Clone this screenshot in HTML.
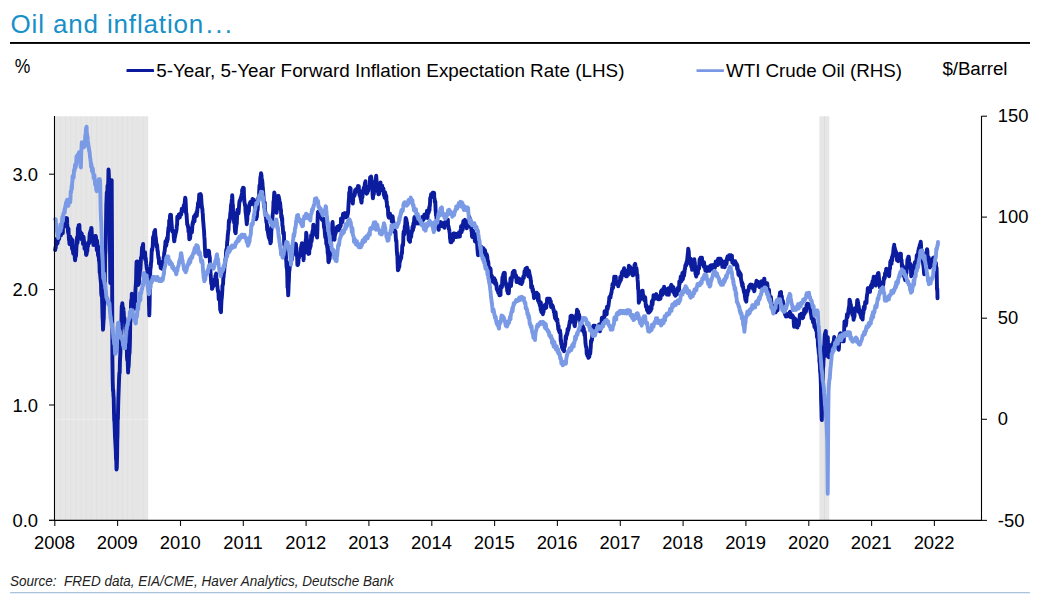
<!DOCTYPE html>
<html><head><meta charset="utf-8"><title>Oil and inflation</title>
<style>
html,body{margin:0;padding:0;background:#fff;}
body{width:1041px;height:596px;overflow:hidden;font-family:"Liberation Sans",sans-serif;}
svg{display:block}
text{font-family:"Liberation Sans",sans-serif;fill:#000;}
.ax{font-size:18.4px;}
.lg{font-size:18.8px;}
</style></head><body>
<svg width="1041" height="596" viewBox="0 0 1041 596">
<rect width="1041" height="596" fill="#fff"/>
<text x="10.5" y="32.7" style="font-size:26px;fill:#1790c8;letter-spacing:0.85px;">Oil and inflation<tspan dx="1.5" style="letter-spacing:2.3px;">...</tspan></text>
<rect x="10" y="42" width="1020" height="1.9" fill="#000"/>
<text x="14.8" y="72.7" style="font-size:19.4px" textLength="15.6" lengthAdjust="spacingAndGlyphs">%</text>
<rect x="126.4" y="69.1" width="27.7" height="3" rx="1.2" fill="#0b1a9c"/>
<text x="156.2" y="76.5" class="lg" style="font-size:18.86px">5-Year, 5-Year Forward Inflation Expectation Rate (LHS)</text>
<rect x="696.3" y="69.2" width="27.8" height="2.8" rx="1.2" fill="#7a98e4"/>
<text x="726" y="76.5" class="lg" textLength="176" lengthAdjust="spacing">WTI Crude Oil (RHS)</text>
<text x="942.5" y="74.5" class="lg" textLength="65" lengthAdjust="spacing">$/Barrel</text>
<g><rect x="55.3" y="116.3" width="92.9" height="404" fill="#e6e6e6"/><rect x="60.01" y="116.3" width="0.9" height="404" fill="#e0e0e0"/><rect x="65.17" y="116.3" width="0.9" height="404" fill="#e0e0e0"/><rect x="70.33" y="116.3" width="0.9" height="404" fill="#e0e0e0"/><rect x="75.49" y="116.3" width="0.9" height="404" fill="#e0e0e0"/><rect x="80.65" y="116.3" width="0.9" height="404" fill="#e0e0e0"/><rect x="85.81" y="116.3" width="0.9" height="404" fill="#e0e0e0"/><rect x="90.97" y="116.3" width="0.9" height="404" fill="#e0e0e0"/><rect x="96.13" y="116.3" width="0.9" height="404" fill="#e0e0e0"/><rect x="101.29" y="116.3" width="0.9" height="404" fill="#e0e0e0"/><rect x="106.45" y="116.3" width="0.9" height="404" fill="#e0e0e0"/><rect x="111.61" y="116.3" width="0.9" height="404" fill="#e0e0e0"/><rect x="116.77" y="116.3" width="0.9" height="404" fill="#e0e0e0"/><rect x="121.93" y="116.3" width="0.9" height="404" fill="#e0e0e0"/><rect x="127.09" y="116.3" width="0.9" height="404" fill="#e0e0e0"/><rect x="132.25" y="116.3" width="0.9" height="404" fill="#e0e0e0"/><rect x="137.41" y="116.3" width="0.9" height="404" fill="#e0e0e0"/><rect x="142.57" y="116.3" width="0.9" height="404" fill="#e0e0e0"/><rect x="819.4" y="116.3" width="9.9" height="404" fill="#e6e6e6"/><rect x="824" y="116.3" width="0.9" height="404" fill="#dcdcdc"/></g>
<rect x="55.3" y="418.8" width="92.9" height="1.2" fill="#fff" opacity="0.3"/>
<path d="M55.2,250.0 L55.5,247.4 L55.7,248.0 L56.0,244.4 L56.2,241.7 L56.5,239.4 L56.7,238.7 L57.0,242.4 L57.2,242.3 L57.5,243.6 L57.7,241.7 L58.0,240.5 L58.2,238.6 L58.5,233.0 L58.7,235.9 L59.0,237.7 L59.2,239.0 L59.5,233.0 L59.7,233.0 L60.0,233.5 L60.2,232.2 L60.5,233.9 L60.8,233.5 L61.0,235.3 L61.2,230.9 L61.5,232.4 L61.8,232.4 L62.0,229.8 L62.2,233.1 L62.5,233.1 L62.8,233.1 L63.0,228.1 L63.2,223.9 L63.5,223.6 L63.8,224.0 L64.0,224.9 L64.2,225.0 L64.5,222.8 L64.7,219.2 L65.0,218.6 L65.2,225.7 L65.4,220.1 L65.7,221.8 L65.9,222.7 L66.2,218.0 L66.4,219.8 L66.7,226.4 L67.0,218.2 L67.2,223.4 L67.5,228.2 L67.8,227.6 L68.0,232.0 L68.3,233.2 L68.5,228.7 L68.8,237.0 L69.0,239.9 L69.3,241.3 L69.5,244.2 L69.8,244.2 L70.0,243.3 L70.3,236.8 L70.5,241.6 L70.8,239.8 L71.0,240.6 L71.2,239.0 L71.5,239.0 L71.8,239.5 L72.0,248.8 L72.2,239.9 L72.5,240.2 L72.8,247.0 L73.0,251.7 L73.3,253.8 L73.5,247.4 L73.8,247.4 L74.0,249.6 L74.3,250.3 L74.6,250.5 L74.8,257.9 L75.1,260.2 L75.3,258.0 L75.6,255.8 L75.8,254.1 L76.0,256.2 L76.3,250.7 L76.5,245.8 L76.7,244.9 L77.0,237.3 L77.2,242.1 L77.5,242.9 L77.7,240.6 L77.9,228.1 L78.2,227.7 L78.4,231.7 L78.7,225.2 L78.9,226.2 L79.2,229.9 L79.4,225.0 L79.7,233.9 L80.0,233.9 L80.2,231.6 L80.5,232.0 L80.8,234.2 L81.0,234.6 L81.3,239.1 L81.5,234.4 L81.8,233.6 L82.0,239.6 L82.3,238.4 L82.5,236.2 L82.8,239.7 L83.0,243.9 L83.3,241.7 L83.5,236.6 L83.8,239.4 L84.0,241.3 L84.3,242.1 L84.5,248.8 L84.8,244.6 L85.0,248.3 L85.3,245.4 L85.5,244.1 L85.8,250.1 L86.1,255.0 L86.3,255.0 L86.6,253.9 L86.8,252.4 L87.1,250.9 L87.3,251.1 L87.5,247.3 L87.8,246.6 L88.0,246.2 L88.3,243.1 L88.5,242.1 L88.8,242.0 L89.0,243.4 L89.2,242.8 L89.5,236.6 L89.8,233.3 L90.0,232.7 L90.2,234.1 L90.5,230.7 L90.8,232.7 L91.0,238.9 L91.2,228.0 L91.5,228.0 L91.8,233.6 L92.0,236.4 L92.2,238.1 L92.5,237.1 L92.7,241.6 L92.9,242.4 L93.2,240.5 L93.4,245.0 L93.7,245.0 L93.9,242.0 L94.2,241.0 L94.5,240.0 L94.7,240.1 L95.0,237.6 L95.3,236.0 L95.5,240.5 L95.8,236.0 L96.0,237.2 L96.3,239.7 L96.5,243.8 L96.8,250.1 L97.0,240.5 L97.3,242.9 L97.5,245.6 L97.8,249.7 L98.0,255.1 L98.3,246.6 L98.5,256.7 L98.7,253.0 L99.0,260.9 L99.2,260.8 L99.5,264.3 L99.7,272.8 L100.0,272.8 L100.2,275.4 L100.5,278.7 L100.8,281.8 L101.0,283.7 L101.2,292.8 L101.5,295.8 L101.8,293.2 L102.0,297.2 L102.2,304.0 L102.5,316.3 L102.8,321.3 L103.0,329.7 L103.2,326.6 L103.5,321.3 L103.8,317.8 L104.0,304.3 L104.2,297.7 L104.5,298.0 L104.8,282.7 L105.0,268.1 L105.2,255.2 L105.5,251.2 L105.8,238.8 L106.0,227.3 L106.3,204.5 L106.5,200.7 L106.8,192.3 L107.0,194.4 L107.3,195.0 L107.5,185.7 L107.8,187.8 L108.0,187.3 L108.3,180.0 L108.5,169.5 L108.8,173.1 L109.1,182.7 L109.3,189.7 L109.6,201.9 L109.8,230.8 L110.1,262.8 L110.3,283.0 L110.6,246.9 L110.9,204.5 L111.2,203.7 L111.4,191.0 L111.7,180.1 L112.0,243.2 L112.2,299.2 L112.4,358.9 L112.7,381.1 L113.0,390.9 L113.2,389.5 L113.5,396.4 L113.7,397.6 L114.0,412.7 L114.2,419.7 L114.5,422.5 L114.7,428.0 L115.0,436.8 L115.2,439.9 L115.5,445.7 L115.8,450.8 L116.0,458.6 L116.3,461.0 L116.5,469.5 L116.8,467.6 L117.1,455.8 L117.3,440.1 L117.5,435.4 L117.7,417.0 L117.9,419.2 L118.2,404.6 L118.4,397.6 L118.7,389.6 L118.9,383.8 L119.2,375.9 L119.4,372.7 L119.7,372.8 L119.9,362.9 L120.1,357.9 L120.4,352.7 L120.6,340.7 L120.9,329.2 L121.1,322.6 L121.4,320.9 L121.6,310.6 L121.8,305.6 L122.1,307.8 L122.3,303.1 L122.5,305.4 L122.8,310.5 L123.0,311.2 L123.3,308.1 L123.5,310.3 L123.7,311.5 L124.0,318.9 L124.2,318.5 L124.5,318.1 L124.7,320.5 L125.0,321.9 L125.2,328.4 L125.5,329.0 L125.7,336.8 L126.0,332.1 L126.2,344.3 L126.5,349.5 L126.8,348.4 L127.0,357.1 L127.3,360.3 L127.6,356.4 L127.8,364.0 L128.1,372.5 L128.3,366.6 L128.6,366.8 L128.8,363.8 L129.0,357.9 L129.2,354.1 L129.5,353.6 L129.8,346.3 L130.0,338.0 L130.2,322.7 L130.5,320.8 L130.8,316.6 L131.0,304.1 L131.2,300.2 L131.5,306.2 L131.8,293.6 L132.0,294.7 L132.2,302.6 L132.5,297.2 L132.8,300.8 L133.0,303.1 L133.2,302.1 L133.5,301.9 L133.7,305.5 L134.0,301.6 L134.2,303.0 L134.4,305.8 L134.7,308.9 L134.9,308.0 L135.1,301.5 L135.4,291.4 L135.6,287.2 L135.8,285.0 L136.1,279.3 L136.3,268.9 L136.6,261.7 L136.8,262.8 L137.0,269.7 L137.2,272.0 L137.5,261.4 L137.7,270.4 L137.9,275.2 L138.2,285.0 L138.4,284.6 L138.7,284.2 L139.0,282.8 L139.2,272.2 L139.5,276.8 L139.7,274.8 L140.0,268.4 L140.2,270.6 L140.5,268.5 L140.8,261.8 L141.0,257.5 L141.3,257.8 L141.6,256.4 L141.8,252.1 L142.1,247.3 L142.3,253.0 L142.6,249.2 L142.8,246.6 L143.1,244.0 L143.3,253.8 L143.6,256.9 L143.8,257.4 L144.0,257.4 L144.3,253.7 L144.5,255.1 L144.7,252.1 L145.0,252.1 L145.2,254.9 L145.4,260.1 L145.7,257.9 L145.9,260.2 L146.2,263.5 L146.4,264.7 L146.7,267.8 L146.9,269.2 L147.2,268.3 L147.4,273.3 L147.7,273.0 L147.9,271.3 L148.2,273.2 L148.5,283.4 L148.8,293.7 L149.0,305.3 L149.3,315.4 L149.6,304.6 L149.8,292.3 L150.1,278.1 L150.3,269.4 L150.5,268.8 L150.8,266.7 L151.0,262.9 L151.3,261.5 L151.5,255.6 L151.8,249.4 L152.0,250.7 L152.3,248.2 L152.5,248.1 L152.8,244.5 L153.0,237.9 L153.3,236.4 L153.5,242.0 L153.8,238.3 L154.1,233.0 L154.3,231.6 L154.6,233.0 L154.8,232.1 L155.1,230.0 L155.3,234.8 L155.6,237.4 L155.8,237.4 L156.0,239.8 L156.3,243.3 L156.5,243.3 L156.8,247.0 L157.0,244.7 L157.2,246.5 L157.5,250.8 L157.8,251.0 L158.0,254.1 L158.2,255.9 L158.5,258.4 L158.8,257.4 L159.0,263.5 L159.2,263.5 L159.5,261.6 L159.8,261.5 L160.0,263.5 L160.2,264.0 L160.5,266.1 L160.7,268.1 L160.9,266.6 L161.2,263.0 L161.4,265.5 L161.7,267.2 L161.9,268.7 L162.2,268.2 L162.4,265.9 L162.7,266.1 L162.9,264.6 L163.2,262.0 L163.5,259.5 L163.7,257.1 L164.0,256.4 L164.2,253.4 L164.5,251.4 L164.7,251.1 L165.0,246.5 L165.2,246.4 L165.5,241.3 L165.7,242.4 L166.0,245.5 L166.2,245.8 L166.5,243.9 L166.7,242.3 L167.0,237.9 L167.2,241.6 L167.5,239.7 L167.7,239.3 L168.0,232.6 L168.2,230.7 L168.5,227.5 L168.8,227.5 L169.0,228.2 L169.2,220.4 L169.5,220.9 L169.8,222.2 L170.0,216.0 L170.2,214.8 L170.5,214.8 L170.8,215.5 L171.0,214.9 L171.2,219.0 L171.5,222.7 L171.8,226.3 L172.0,228.7 L172.2,231.4 L172.5,231.5 L172.7,230.7 L173.0,231.3 L173.2,230.8 L173.4,231.2 L173.7,235.4 L173.9,238.4 L174.2,241.4 L174.4,241.0 L174.6,237.7 L174.9,237.3 L175.1,236.2 L175.4,234.7 L175.6,233.9 L175.8,231.2 L176.1,232.3 L176.3,230.7 L176.6,229.0 L176.8,225.9 L177.1,224.7 L177.3,216.8 L177.6,216.8 L177.8,219.2 L178.1,216.8 L178.3,217.9 L178.5,217.9 L178.8,214.5 L179.0,214.8 L179.3,214.6 L179.5,216.6 L179.8,217.5 L180.0,215.8 L180.3,213.5 L180.5,213.8 L180.8,213.4 L181.0,214.8 L181.2,214.5 L181.5,211.4 L181.8,208.6 L182.0,209.0 L182.2,208.6 L182.5,208.6 L182.8,209.4 L183.0,209.5 L183.2,208.4 L183.5,208.4 L183.8,205.3 L184.0,210.8 L184.2,204.9 L184.5,204.8 L184.8,201.4 L185.0,200.1 L185.2,197.6 L185.5,199.2 L185.8,204.2 L186.0,208.8 L186.2,214.0 L186.5,213.7 L186.8,218.4 L187.0,221.4 L187.2,224.3 L187.5,225.2 L187.8,225.1 L188.0,227.4 L188.3,226.9 L188.5,231.8 L188.8,229.5 L189.0,232.7 L189.3,239.2 L189.5,237.2 L189.8,237.7 L190.0,238.8 L190.3,236.7 L190.5,232.4 L190.7,232.9 L191.0,232.8 L191.2,231.5 L191.4,228.5 L191.7,232.0 L191.9,232.3 L192.2,228.0 L192.4,225.3 L192.7,222.4 L193.0,223.8 L193.2,220.8 L193.5,221.8 L193.7,219.0 L194.0,216.5 L194.2,219.0 L194.5,221.3 L194.7,218.1 L195.0,215.0 L195.2,216.0 L195.5,214.5 L195.8,214.1 L196.0,216.0 L196.2,216.0 L196.5,212.0 L196.8,216.0 L197.0,212.6 L197.2,212.3 L197.5,207.7 L197.8,206.9 L198.0,203.0 L198.2,207.0 L198.5,206.6 L198.7,202.8 L199.0,198.3 L199.2,194.5 L199.4,200.0 L199.7,197.3 L199.9,196.6 L200.2,195.1 L200.4,194.3 L200.6,194.1 L200.9,197.0 L201.1,195.5 L201.3,200.0 L201.6,204.0 L201.8,206.4 L202.1,208.4 L202.3,208.4 L202.6,212.5 L202.8,214.1 L203.1,220.6 L203.3,221.9 L203.6,226.0 L203.8,228.4 L204.1,231.6 L204.3,236.4 L204.6,239.7 L204.8,245.7 L205.1,251.3 L205.3,255.2 L205.5,256.2 L205.8,254.6 L206.0,253.7 L206.3,256.2 L206.5,251.0 L206.8,250.6 L207.0,251.4 L207.3,252.0 L207.5,253.1 L207.8,252.2 L208.1,253.6 L208.3,253.4 L208.6,255.1 L208.8,250.8 L209.1,252.0 L209.3,255.3 L209.6,256.1 L209.8,258.0 L210.0,265.4 L210.3,267.4 L210.5,272.1 L210.8,276.4 L211.0,279.5 L211.2,282.9 L211.5,284.2 L211.8,284.0 L212.0,288.8 L212.2,288.7 L212.5,286.3 L212.8,285.4 L213.0,287.0 L213.2,282.5 L213.5,284.0 L213.8,285.5 L214.0,281.4 L214.2,280.7 L214.5,279.4 L214.7,282.8 L214.9,280.7 L215.2,280.7 L215.4,276.0 L215.7,275.3 L215.9,274.6 L216.2,273.6 L216.4,280.2 L216.7,284.1 L216.9,279.5 L217.2,285.5 L217.5,287.0 L217.7,289.9 L218.0,291.8 L218.2,291.1 L218.5,293.2 L218.7,299.2 L219.0,298.1 L219.2,297.0 L219.5,296.5 L219.7,297.9 L220.0,303.8 L220.2,309.8 L220.5,310.3 L220.7,311.1 L221.0,312.2 L221.2,305.9 L221.5,299.9 L221.7,298.6 L222.0,295.5 L222.3,290.6 L222.5,285.2 L222.8,285.2 L223.1,283.6 L223.3,278.1 L223.6,277.0 L223.8,273.4 L224.1,272.7 L224.3,269.7 L224.5,267.1 L224.8,264.0 L225.0,263.1 L225.2,263.4 L225.5,258.7 L225.8,258.2 L226.0,252.2 L226.2,250.5 L226.5,249.0 L226.8,249.5 L227.0,244.9 L227.2,241.9 L227.5,239.9 L227.8,234.3 L228.0,234.1 L228.2,230.8 L228.5,230.4 L228.7,225.2 L228.9,220.5 L229.2,222.2 L229.4,222.0 L229.6,219.0 L229.9,219.9 L230.1,216.3 L230.3,212.8 L230.6,212.8 L230.8,208.9 L231.0,205.3 L231.3,203.8 L231.5,204.6 L231.7,200.8 L232.0,198.7 L232.2,195.1 L232.4,198.8 L232.7,206.1 L232.9,204.9 L233.1,214.0 L233.4,211.6 L233.6,214.0 L233.8,217.2 L234.1,222.6 L234.3,220.5 L234.6,219.2 L234.8,227.5 L235.1,232.0 L235.3,231.6 L235.6,233.2 L235.8,231.3 L236.0,227.8 L236.3,226.4 L236.5,223.2 L236.8,224.0 L237.0,217.9 L237.2,215.4 L237.5,209.7 L237.8,211.7 L238.0,210.7 L238.2,211.2 L238.5,213.3 L238.8,210.5 L239.0,206.9 L239.2,203.9 L239.5,201.3 L239.8,200.5 L240.0,201.1 L240.2,200.1 L240.5,199.1 L240.8,197.5 L241.0,199.2 L241.2,198.1 L241.5,195.2 L241.8,194.9 L242.0,192.7 L242.2,189.6 L242.5,193.4 L242.8,192.6 L243.0,187.8 L243.2,190.0 L243.5,188.3 L243.8,188.1 L244.0,196.2 L244.2,198.7 L244.5,202.6 L244.8,203.8 L245.0,205.4 L245.3,205.2 L245.5,211.2 L245.8,213.5 L246.0,215.0 L246.3,218.8 L246.5,221.2 L246.8,224.2 L247.0,221.5 L247.3,219.6 L247.5,211.6 L247.7,212.3 L248.0,214.2 L248.2,213.6 L248.4,211.0 L248.7,208.7 L248.9,211.4 L249.1,206.2 L249.4,205.1 L249.6,203.7 L249.8,203.4 L250.1,204.2 L250.3,202.0 L250.6,202.6 L250.8,202.2 L251.0,202.5 L251.3,204.2 L251.5,204.2 L251.8,203.3 L252.0,201.3 L252.2,202.7 L252.5,199.0 L252.8,201.5 L253.0,202.5 L253.2,200.8 L253.5,201.1 L253.8,199.6 L254.0,204.0 L254.2,200.9 L254.5,203.0 L254.8,205.8 L255.0,208.6 L255.2,211.7 L255.5,212.9 L255.7,212.7 L255.9,215.9 L256.2,219.2 L256.4,218.2 L256.6,216.6 L256.9,217.0 L257.1,213.5 L257.3,206.3 L257.6,210.3 L257.8,207.2 L258.1,200.4 L258.3,198.2 L258.6,197.3 L258.8,196.8 L259.1,193.6 L259.3,189.1 L259.5,185.5 L259.8,184.7 L260.0,186.1 L260.2,180.0 L260.5,176.6 L260.7,177.1 L261.0,173.3 L261.2,173.8 L261.5,175.5 L261.7,179.5 L262.0,179.7 L262.2,180.5 L262.5,183.7 L262.7,187.3 L263.0,189.5 L263.2,192.1 L263.5,196.5 L263.8,201.5 L264.0,206.7 L264.2,203.1 L264.5,204.0 L264.8,202.6 L265.0,210.2 L265.2,211.1 L265.5,213.5 L265.8,217.4 L266.0,215.1 L266.2,220.5 L266.5,222.8 L266.8,222.0 L267.0,226.9 L267.2,230.1 L267.5,226.2 L267.8,231.1 L268.0,232.5 L268.2,234.4 L268.5,235.5 L268.8,237.7 L269.0,236.5 L269.2,238.6 L269.5,237.5 L269.7,240.1 L269.9,237.4 L270.2,238.5 L270.4,243.2 L270.7,242.7 L270.9,241.8 L271.2,235.3 L271.4,229.7 L271.7,227.7 L272.0,226.5 L272.2,221.7 L272.5,216.9 L272.8,213.3 L273.0,213.0 L273.3,206.8 L273.5,201.4 L273.8,201.0 L274.0,196.6 L274.3,192.5 L274.5,193.3 L274.8,195.2 L275.0,199.7 L275.3,201.8 L275.5,201.8 L275.8,205.1 L276.1,208.1 L276.3,207.9 L276.6,212.8 L276.9,210.0 L277.1,207.0 L277.4,207.4 L277.6,208.1 L277.9,201.4 L278.1,200.1 L278.4,195.7 L278.6,196.6 L278.8,196.9 L279.1,201.3 L279.3,199.1 L279.5,202.8 L279.8,205.5 L280.0,202.4 L280.2,203.7 L280.5,207.8 L280.8,209.4 L281.0,209.8 L281.2,217.2 L281.5,216.5 L281.7,215.7 L282.0,220.7 L282.2,218.0 L282.4,225.7 L282.7,225.7 L282.9,228.9 L283.2,233.3 L283.4,234.1 L283.6,233.7 L283.9,232.5 L284.1,241.1 L284.3,245.1 L284.6,244.5 L284.8,248.4 L285.1,251.4 L285.3,254.7 L285.6,249.1 L285.8,253.5 L286.1,259.4 L286.3,261.7 L286.6,267.7 L286.8,263.3 L287.1,271.1 L287.3,276.8 L287.5,287.4 L287.8,286.7 L288.0,290.2 L288.2,295.3 L288.4,291.4 L288.7,283.3 L288.9,280.1 L289.2,271.3 L289.5,270.2 L289.7,266.9 L290.0,266.3 L290.2,263.2 L290.5,261.2 L290.8,262.4 L291.0,262.1 L291.2,258.9 L291.5,259.1 L291.8,259.9 L292.0,256.5 L292.2,255.2 L292.5,255.8 L292.8,255.7 L293.0,252.6 L293.2,248.7 L293.5,250.8 L293.7,250.7 L294.0,250.0 L294.2,248.6 L294.5,249.0 L294.7,247.1 L294.9,244.3 L295.2,243.9 L295.4,244.1 L295.7,244.3 L295.9,243.9 L296.2,248.1 L296.4,247.3 L296.7,254.1 L297.0,255.8 L297.2,258.7 L297.4,264.9 L297.7,265.1 L297.9,265.0 L298.1,263.8 L298.4,262.9 L298.6,256.7 L298.9,256.0 L299.1,257.4 L299.3,255.7 L299.6,255.5 L299.8,255.1 L300.0,255.1 L300.3,255.2 L300.5,254.1 L300.8,250.3 L301.0,248.6 L301.2,246.5 L301.5,245.1 L301.7,244.2 L301.9,243.1 L302.2,245.3 L302.4,248.3 L302.6,248.0 L302.9,251.7 L303.1,255.5 L303.4,256.6 L303.6,260.2 L303.8,253.0 L304.1,251.7 L304.3,245.6 L304.5,249.9 L304.8,252.9 L305.0,244.4 L305.2,243.0 L305.5,242.8 L305.8,239.7 L306.0,239.6 L306.2,232.8 L306.5,234.5 L306.8,237.9 L307.0,240.5 L307.2,241.4 L307.5,246.7 L307.8,247.4 L308.0,251.2 L308.2,252.9 L308.5,253.9 L308.7,253.0 L309.0,252.8 L309.2,253.7 L309.4,248.9 L309.7,248.3 L309.9,248.8 L310.2,246.8 L310.4,246.2 L310.6,246.5 L310.9,242.3 L311.1,235.3 L311.4,238.8 L311.6,241.4 L311.8,239.4 L312.1,236.8 L312.3,232.7 L312.6,230.7 L312.8,232.4 L313.1,228.6 L313.3,224.8 L313.6,224.8 L313.8,231.8 L314.1,231.9 L314.3,227.1 L314.5,226.6 L314.8,228.6 L315.0,227.4 L315.2,233.1 L315.5,232.2 L315.7,231.6 L315.9,235.0 L316.2,233.7 L316.4,235.3 L316.6,235.9 L316.9,236.0 L317.1,237.6 L317.4,230.0 L317.6,219.5 L317.9,212.2 L318.1,211.8 L318.3,211.8 L318.6,211.9 L318.8,213.1 L319.1,215.2 L319.3,215.0 L319.5,212.5 L319.8,211.9 L320.0,211.8 L320.3,212.5 L320.5,214.6 L320.7,215.9 L321.0,215.7 L321.2,215.6 L321.5,218.7 L321.7,217.8 L321.9,219.6 L322.2,219.9 L322.4,219.2 L322.7,220.4 L322.9,218.7 L323.1,219.3 L323.4,218.6 L323.6,218.8 L323.9,226.2 L324.1,227.8 L324.4,227.0 L324.6,229.6 L324.9,233.6 L325.1,235.4 L325.3,237.6 L325.6,233.5 L325.8,235.2 L326.0,238.2 L326.3,243.9 L326.5,244.3 L326.7,242.8 L327.0,245.1 L327.2,247.3 L327.4,247.6 L327.7,253.4 L327.9,252.2 L328.1,254.1 L328.4,261.6 L328.6,262.2 L328.9,261.1 L329.1,260.4 L329.3,258.3 L329.6,259.2 L329.8,256.0 L330.1,254.5 L330.3,248.7 L330.6,245.3 L330.8,241.0 L331.1,239.1 L331.3,239.3 L331.6,230.9 L331.8,229.3 L332.1,227.9 L332.3,224.2 L332.6,222.0 L332.8,225.9 L333.1,232.8 L333.3,232.7 L333.5,232.1 L333.8,230.6 L334.0,239.3 L334.2,239.0 L334.5,239.7 L334.7,236.4 L335.0,235.5 L335.2,231.8 L335.4,232.5 L335.7,233.3 L335.9,231.6 L336.2,230.5 L336.4,227.9 L336.6,230.4 L336.9,228.2 L337.1,226.7 L337.4,226.7 L337.6,226.7 L337.9,226.7 L338.1,226.7 L338.4,228.3 L338.6,226.0 L338.9,226.2 L339.1,230.3 L339.4,230.3 L339.6,228.0 L339.8,227.3 L340.1,226.3 L340.3,226.0 L340.5,226.5 L340.8,225.1 L341.0,218.5 L341.2,220.1 L341.5,218.7 L341.7,221.8 L342.0,220.0 L342.2,220.1 L342.4,222.0 L342.7,218.9 L342.9,215.3 L343.1,213.8 L343.4,213.8 L343.6,213.8 L343.9,214.2 L344.1,214.4 L344.3,213.2 L344.6,213.2 L344.8,213.9 L345.1,213.2 L345.3,213.2 L345.5,215.1 L345.8,217.4 L346.0,217.4 L346.2,216.8 L346.5,216.8 L346.8,215.9 L347.0,216.8 L347.2,216.8 L347.5,214.8 L347.8,214.1 L348.0,213.0 L348.2,210.2 L348.5,205.3 L348.8,199.9 L349.0,199.0 L349.2,192.5 L349.4,195.2 L349.7,193.1 L349.9,187.7 L350.1,191.7 L350.4,194.5 L350.6,188.4 L350.9,196.6 L351.1,197.2 L351.4,197.5 L351.6,196.8 L351.9,199.3 L352.1,201.0 L352.3,201.5 L352.6,202.1 L352.8,203.6 L353.1,199.6 L353.3,196.0 L353.6,194.5 L353.8,194.5 L354.1,194.8 L354.3,196.0 L354.5,195.5 L354.8,194.4 L355.0,191.2 L355.2,190.0 L355.5,192.0 L355.7,190.8 L356.0,190.3 L356.2,188.9 L356.5,191.5 L356.7,188.6 L357.0,190.0 L357.2,191.5 L357.5,188.2 L357.7,188.6 L358.0,185.9 L358.3,189.1 L358.5,190.2 L358.8,186.3 L359.0,191.4 L359.3,190.3 L359.5,195.2 L359.8,194.5 L360.0,195.3 L360.3,197.3 L360.5,197.3 L360.8,199.5 L361.0,199.0 L361.3,202.1 L361.5,202.6 L361.7,201.5 L362.0,193.0 L362.2,197.9 L362.5,196.5 L362.7,190.6 L363.0,192.2 L363.2,192.2 L363.5,192.6 L363.7,187.6 L364.0,191.2 L364.2,187.2 L364.5,190.9 L364.7,184.9 L365.0,182.7 L365.2,183.2 L365.5,181.3 L365.7,187.2 L366.0,189.2 L366.2,189.8 L366.5,193.7 L366.8,191.9 L367.0,189.2 L367.3,193.0 L367.5,191.2 L367.8,189.1 L368.0,191.1 L368.2,191.1 L368.5,188.8 L368.7,188.4 L369.0,186.9 L369.2,186.2 L369.4,186.4 L369.7,187.0 L369.9,182.6 L370.1,177.4 L370.4,182.7 L370.6,180.7 L370.9,180.9 L371.1,176.5 L371.4,178.1 L371.6,181.3 L371.9,181.0 L372.1,185.8 L372.4,189.7 L372.6,195.0 L372.9,198.2 L373.1,196.5 L373.3,192.2 L373.6,193.0 L373.8,194.3 L374.0,191.7 L374.3,186.6 L374.5,187.3 L374.8,187.2 L375.0,186.4 L375.2,182.2 L375.5,181.5 L375.8,180.9 L376.0,177.5 L376.2,175.8 L376.5,179.8 L376.8,183.7 L377.0,185.1 L377.2,189.0 L377.4,188.2 L377.7,190.2 L377.9,192.0 L378.1,192.0 L378.4,194.2 L378.6,190.6 L378.9,194.2 L379.1,193.9 L379.3,190.3 L379.6,187.2 L379.8,186.0 L380.0,185.8 L380.3,185.3 L380.5,182.4 L380.7,185.7 L381.0,188.3 L381.2,187.6 L381.4,188.9 L381.7,188.3 L381.9,189.1 L382.2,185.6 L382.4,190.5 L382.7,190.0 L382.9,188.5 L383.2,188.5 L383.4,188.5 L383.7,193.0 L383.9,195.2 L384.2,192.7 L384.4,195.2 L384.7,197.8 L384.9,195.4 L385.1,192.3 L385.4,194.2 L385.6,196.3 L385.8,198.7 L386.1,199.4 L386.3,195.8 L386.5,201.7 L386.8,201.6 L387.0,206.8 L387.2,205.9 L387.5,206.4 L387.8,207.1 L388.0,209.5 L388.2,215.4 L388.5,216.6 L388.8,217.5 L389.0,217.7 L389.2,213.6 L389.5,213.6 L389.8,213.8 L390.0,213.6 L390.2,216.9 L390.5,215.8 L390.8,216.1 L391.0,216.5 L391.3,216.2 L391.5,217.2 L391.8,221.6 L392.0,221.0 L392.3,217.5 L392.5,216.2 L392.8,217.4 L393.0,221.4 L393.3,221.2 L393.6,224.6 L393.8,229.3 L394.1,231.6 L394.3,228.8 L394.6,231.7 L394.8,232.3 L395.0,231.1 L395.3,232.6 L395.5,231.5 L395.7,236.1 L396.0,240.7 L396.2,241.3 L396.4,240.5 L396.7,248.4 L396.9,251.8 L397.2,255.3 L397.4,256.0 L397.6,263.3 L397.9,270.2 L398.1,270.2 L398.3,269.8 L398.6,268.7 L398.8,266.3 L399.0,267.6 L399.3,266.8 L399.5,263.8 L399.8,260.0 L400.0,261.5 L400.2,258.7 L400.5,259.8 L400.8,258.4 L401.0,258.2 L401.2,258.2 L401.5,253.5 L401.8,251.9 L402.0,253.5 L402.2,247.0 L402.5,244.8 L402.7,245.1 L403.0,245.3 L403.2,242.3 L403.4,234.6 L403.7,231.4 L403.9,232.0 L404.2,230.9 L404.4,234.3 L404.7,227.1 L405.0,225.5 L405.2,226.0 L405.5,219.4 L405.7,217.9 L406.0,219.7 L406.2,218.9 L406.5,220.4 L406.7,223.4 L407.0,222.4 L407.2,226.4 L407.5,226.2 L407.7,227.7 L408.0,230.9 L408.2,231.4 L408.5,234.0 L408.7,239.9 L409.0,239.0 L409.2,238.8 L409.5,241.4 L409.7,241.4 L410.0,241.8 L410.2,237.0 L410.5,238.0 L410.7,234.9 L411.0,231.9 L411.2,236.8 L411.5,231.4 L411.7,233.3 L412.0,230.6 L412.2,231.0 L412.5,226.8 L412.8,228.7 L413.0,230.1 L413.2,225.6 L413.5,222.9 L413.8,227.5 L414.0,222.7 L414.2,219.0 L414.5,217.0 L414.8,218.2 L415.0,219.1 L415.2,219.4 L415.5,221.5 L415.8,220.4 L416.0,220.8 L416.2,221.5 L416.5,219.5 L416.7,221.6 L417.0,223.5 L417.2,219.6 L417.4,218.0 L417.7,218.0 L417.9,218.0 L418.2,220.3 L418.4,219.6 L418.7,220.9 L418.9,223.5 L419.2,219.2 L419.4,219.3 L419.7,219.2 L420.0,220.6 L420.2,219.2 L420.5,219.8 L420.7,220.7 L421.0,221.4 L421.2,220.5 L421.5,220.4 L421.7,218.8 L422.0,219.6 L422.2,217.0 L422.5,218.2 L422.7,217.0 L423.0,217.0 L423.2,220.0 L423.5,219.5 L423.7,216.4 L424.0,217.6 L424.2,215.0 L424.5,214.5 L424.7,214.5 L425.0,217.1 L425.2,217.8 L425.5,216.8 L425.7,215.1 L426.0,214.8 L426.2,216.9 L426.5,216.7 L426.8,213.7 L427.0,210.6 L427.2,210.6 L427.5,218.0 L427.8,212.5 L428.0,212.9 L428.2,213.5 L428.5,212.8 L428.8,212.2 L429.0,210.9 L429.2,207.3 L429.5,210.3 L429.7,205.2 L429.9,206.0 L430.2,198.1 L430.4,197.7 L430.7,197.5 L430.9,196.6 L431.1,194.1 L431.4,196.1 L431.6,196.6 L431.8,193.7 L432.1,195.4 L432.3,194.0 L432.6,192.8 L432.8,193.3 L433.1,192.8 L433.3,192.8 L433.6,192.8 L433.8,192.8 L434.1,192.9 L434.3,198.2 L434.6,198.6 L434.8,202.1 L435.1,202.0 L435.3,201.4 L435.6,210.4 L435.8,211.8 L436.0,215.3 L436.3,213.9 L436.5,218.4 L436.7,219.7 L437.0,221.7 L437.2,222.2 L437.4,225.9 L437.7,224.6 L437.9,223.3 L438.2,222.5 L438.4,229.5 L438.7,229.8 L438.9,226.5 L439.2,225.2 L439.4,225.2 L439.7,225.2 L439.9,223.6 L440.1,222.1 L440.4,222.0 L440.6,222.2 L440.8,222.7 L441.1,222.3 L441.3,223.9 L441.5,225.3 L441.8,226.0 L442.0,223.5 L442.2,223.7 L442.5,223.7 L442.8,226.4 L443.0,223.7 L443.2,223.7 L443.5,225.6 L443.8,224.9 L444.0,227.4 L444.2,225.2 L444.5,227.8 L444.8,222.2 L445.0,222.2 L445.2,224.6 L445.5,224.5 L445.7,224.9 L446.0,224.4 L446.2,225.0 L446.4,220.2 L446.7,224.0 L446.9,221.5 L447.2,223.4 L447.4,222.1 L447.6,219.8 L447.9,219.8 L448.1,225.6 L448.4,226.2 L448.6,226.3 L448.8,228.8 L449.1,229.1 L449.3,230.3 L449.5,231.8 L449.8,233.5 L450.0,238.7 L450.2,237.8 L450.5,242.2 L450.7,242.2 L451.0,242.2 L451.2,242.2 L451.4,242.2 L451.7,241.4 L451.9,239.9 L452.1,237.3 L452.4,237.9 L452.6,236.7 L452.9,240.5 L453.1,239.1 L453.3,237.7 L453.6,233.5 L453.8,234.5 L454.1,234.3 L454.3,233.5 L454.5,233.5 L454.8,233.5 L455.0,234.4 L455.2,234.5 L455.5,237.0 L455.8,237.0 L456.0,236.0 L456.2,237.0 L456.5,237.0 L456.8,236.0 L457.0,234.9 L457.2,233.8 L457.5,236.8 L457.7,236.8 L457.9,236.8 L458.2,236.8 L458.4,235.6 L458.7,233.6 L458.9,235.4 L459.1,232.2 L459.4,234.0 L459.6,236.5 L459.9,236.5 L460.1,232.3 L460.4,233.1 L460.6,230.9 L460.9,228.4 L461.1,226.2 L461.3,230.3 L461.6,232.2 L461.8,228.2 L462.0,226.1 L462.3,225.0 L462.5,229.8 L462.7,229.8 L463.0,225.4 L463.2,222.4 L463.4,220.9 L463.7,224.6 L463.9,225.8 L464.2,224.2 L464.4,221.3 L464.7,220.9 L464.9,219.8 L465.2,223.1 L465.4,221.6 L465.7,225.6 L465.9,223.2 L466.1,223.2 L466.4,226.2 L466.6,227.4 L466.8,228.2 L467.1,227.1 L467.3,222.7 L467.5,225.3 L467.8,225.8 L468.0,221.7 L468.2,224.7 L468.5,224.3 L468.8,224.4 L469.0,216.8 L469.2,216.8 L469.5,217.7 L469.8,221.8 L470.0,218.6 L470.2,220.3 L470.5,222.6 L470.8,223.7 L471.0,228.0 L471.2,226.4 L471.5,231.0 L471.8,232.6 L472.0,236.3 L472.2,236.9 L472.5,234.7 L472.8,231.2 L473.0,230.7 L473.2,231.7 L473.5,234.4 L473.8,235.3 L474.0,237.6 L474.3,238.0 L474.5,235.4 L474.8,240.5 L475.0,241.4 L475.3,240.2 L475.5,237.4 L475.8,234.3 L476.0,236.0 L476.3,239.6 L476.6,239.6 L476.8,238.4 L477.1,243.7 L477.3,246.7 L477.5,249.8 L477.8,252.7 L478.0,255.2 L478.2,253.4 L478.5,254.8 L478.7,251.4 L479.0,253.6 L479.2,253.1 L479.5,252.7 L479.7,253.4 L480.0,251.5 L480.2,252.8 L480.5,252.8 L480.8,252.3 L481.0,249.2 L481.2,247.2 L481.5,247.1 L481.8,247.9 L482.0,248.3 L482.2,253.4 L482.5,253.3 L482.8,253.7 L483.0,249.6 L483.2,248.1 L483.5,248.8 L483.8,250.7 L484.0,249.1 L484.2,253.4 L484.5,251.9 L484.7,254.2 L485.0,250.2 L485.2,251.5 L485.5,253.9 L485.7,255.2 L485.9,257.1 L486.2,257.3 L486.4,257.3 L486.7,254.3 L486.9,256.0 L487.1,255.7 L487.4,257.8 L487.6,260.7 L487.9,261.3 L488.1,261.2 L488.4,263.0 L488.6,267.7 L488.9,272.0 L489.1,270.0 L489.3,272.0 L489.6,267.7 L489.8,268.0 L490.0,268.5 L490.3,268.5 L490.5,268.7 L490.8,271.7 L491.0,277.0 L491.2,275.4 L491.5,275.2 L491.7,275.7 L492.0,276.2 L492.2,279.1 L492.5,281.8 L492.7,277.3 L493.0,278.8 L493.2,278.9 L493.5,280.2 L493.8,278.2 L494.0,278.2 L494.3,278.2 L494.6,279.6 L494.8,282.4 L495.1,283.7 L495.3,280.3 L495.6,283.6 L495.8,283.2 L496.1,283.2 L496.3,283.2 L496.6,287.1 L496.8,289.4 L497.0,289.2 L497.3,290.4 L497.5,289.7 L497.7,290.3 L498.0,290.9 L498.2,292.8 L498.4,292.2 L498.7,292.0 L498.9,292.2 L499.2,291.7 L499.4,295.2 L499.7,294.7 L499.9,293.5 L500.2,295.2 L500.5,295.0 L500.7,286.1 L501.0,286.0 L501.3,286.3 L501.5,287.3 L501.8,287.3 L502.0,286.3 L502.3,279.1 L502.5,277.0 L502.8,277.6 L503.1,277.9 L503.3,274.2 L503.6,273.5 L503.8,273.0 L504.1,273.8 L504.3,273.8 L504.5,274.5 L504.8,272.8 L505.0,279.1 L505.3,283.8 L505.5,281.6 L505.8,283.5 L506.0,283.3 L506.2,285.3 L506.5,286.8 L506.8,284.8 L507.0,288.1 L507.2,291.2 L507.5,288.3 L507.8,293.2 L508.0,293.2 L508.2,293.2 L508.5,293.2 L508.8,293.2 L509.0,289.8 L509.2,286.1 L509.5,283.9 L509.8,284.6 L510.0,284.1 L510.2,284.3 L510.5,278.3 L510.8,285.5 L511.0,286.0 L511.2,283.0 L511.5,281.4 L511.8,279.3 L512.0,277.2 L512.2,276.1 L512.5,275.1 L512.7,272.3 L513.0,273.5 L513.2,273.1 L513.4,273.4 L513.7,271.0 L513.9,271.3 L514.1,272.0 L514.4,273.9 L514.6,271.0 L514.9,273.8 L515.1,276.9 L515.4,277.1 L515.6,275.4 L515.9,275.3 L516.1,275.6 L516.4,278.1 L516.6,282.0 L516.8,279.9 L517.1,277.6 L517.3,279.6 L517.6,280.2 L517.8,279.5 L518.0,278.7 L518.3,279.6 L518.5,282.4 L518.8,278.7 L519.0,278.5 L519.2,281.9 L519.5,280.4 L519.7,282.5 L519.9,283.3 L520.2,283.0 L520.4,281.2 L520.7,281.7 L520.9,281.7 L521.1,283.5 L521.4,282.0 L521.6,284.1 L521.8,280.2 L522.1,279.8 L522.3,279.8 L522.5,282.1 L522.8,278.3 L523.0,279.0 L523.3,276.5 L523.5,276.8 L523.8,278.0 L524.0,275.7 L524.2,275.6 L524.5,271.1 L524.8,274.0 L525.0,274.8 L525.2,271.7 L525.5,268.8 L525.8,269.8 L526.0,272.4 L526.2,273.0 L526.5,273.0 L526.8,267.8 L527.0,267.8 L527.2,273.0 L527.5,269.2 L527.8,272.3 L528.0,273.0 L528.3,274.7 L528.5,276.6 L528.8,274.4 L529.0,270.8 L529.3,272.7 L529.5,273.7 L529.8,274.9 L530.0,277.0 L530.3,276.7 L530.5,278.3 L530.8,280.4 L531.0,281.1 L531.2,287.4 L531.5,286.7 L531.7,286.0 L532.0,285.9 L532.2,286.4 L532.5,290.4 L532.7,291.5 L533.0,289.2 L533.2,290.4 L533.5,293.1 L533.7,294.7 L534.0,298.2 L534.2,295.6 L534.5,297.3 L534.8,297.3 L535.0,294.2 L535.2,295.4 L535.5,295.7 L535.8,296.5 L536.0,294.8 L536.2,295.8 L536.5,292.8 L536.8,292.8 L537.0,294.6 L537.2,297.1 L537.5,297.3 L537.8,296.2 L538.0,300.6 L538.2,294.1 L538.5,295.5 L538.8,300.6 L539.0,302.9 L539.2,301.2 L539.5,301.0 L539.7,304.9 L540.0,305.8 L540.2,304.2 L540.5,306.1 L540.7,310.0 L540.9,302.5 L541.2,309.9 L541.4,312.2 L541.7,308.8 L541.9,312.4 L542.1,309.2 L542.4,312.0 L542.6,312.1 L542.9,314.2 L543.1,311.3 L543.3,310.0 L543.6,312.0 L543.8,308.0 L544.1,306.0 L544.3,305.9 L544.6,306.2 L544.8,305.0 L545.1,305.6 L545.3,306.2 L545.6,305.4 L545.8,308.0 L546.1,305.1 L546.3,307.5 L546.6,303.0 L546.8,304.1 L547.1,298.8 L547.3,300.3 L547.6,300.2 L547.8,299.6 L548.1,298.8 L548.3,298.9 L548.6,298.8 L548.8,298.8 L549.0,298.8 L549.3,298.8 L549.5,298.8 L549.8,298.8 L550.0,300.4 L550.2,302.3 L550.5,301.9 L550.8,301.1 L551.0,306.0 L551.2,307.0 L551.5,307.0 L551.8,307.0 L552.0,305.5 L552.2,305.0 L552.5,306.4 L552.7,306.0 L553.0,306.6 L553.2,308.6 L553.5,310.1 L553.7,309.3 L553.9,312.5 L554.2,311.6 L554.4,312.8 L554.6,315.4 L554.9,316.8 L555.1,318.2 L555.3,313.9 L555.6,312.1 L555.8,314.2 L556.1,317.9 L556.3,320.4 L556.5,318.7 L556.8,320.8 L557.0,319.1 L557.3,319.4 L557.5,321.7 L557.8,324.3 L558.0,325.6 L558.3,329.4 L558.5,325.7 L558.7,329.6 L559.0,331.1 L559.2,330.2 L559.5,332.4 L559.7,331.8 L560.0,330.4 L560.2,332.5 L560.5,333.9 L560.7,341.0 L561.0,339.8 L561.2,343.8 L561.5,344.3 L561.8,345.2 L562.0,347.5 L562.2,344.8 L562.5,348.7 L562.8,349.4 L563.0,348.2 L563.2,348.8 L563.5,349.4 L563.8,349.3 L564.0,351.2 L564.2,347.2 L564.5,347.0 L564.8,346.5 L565.0,343.6 L565.2,344.7 L565.5,339.7 L565.7,336.3 L566.0,339.2 L566.2,335.7 L566.4,336.5 L566.7,334.2 L566.9,335.2 L567.1,332.7 L567.4,333.4 L567.6,328.9 L567.9,331.2 L568.1,330.0 L568.3,329.8 L568.6,328.9 L568.8,328.4 L569.1,325.2 L569.3,324.5 L569.5,323.2 L569.8,321.3 L570.0,320.8 L570.3,322.5 L570.5,316.1 L570.8,316.4 L571.0,316.8 L571.3,315.8 L571.5,317.8 L571.8,317.3 L572.0,316.3 L572.3,315.8 L572.5,319.8 L572.7,318.3 L573.0,321.1 L573.2,321.6 L573.4,319.2 L573.7,319.2 L573.9,320.4 L574.1,323.2 L574.4,325.3 L574.6,325.5 L574.8,326.2 L575.1,323.1 L575.3,321.0 L575.5,322.1 L575.8,318.9 L576.0,319.0 L576.2,314.8 L576.5,316.2 L576.8,314.5 L577.0,309.8 L577.2,312.8 L577.5,311.9 L577.8,313.0 L578.0,311.1 L578.2,312.2 L578.5,318.7 L578.8,316.3 L579.0,314.4 L579.2,316.2 L579.5,316.2 L579.7,317.9 L579.9,319.9 L580.2,320.9 L580.4,323.1 L580.6,325.7 L580.9,322.7 L581.1,329.7 L581.3,326.6 L581.6,324.0 L581.8,328.0 L582.1,329.0 L582.3,327.5 L582.5,329.5 L582.8,326.5 L583.0,326.5 L583.3,331.5 L583.5,330.7 L583.8,328.4 L584.0,331.9 L584.3,333.5 L584.5,335.2 L584.8,332.0 L585.0,335.1 L585.3,339.9 L585.5,343.3 L585.8,345.5 L586.0,346.9 L586.3,346.9 L586.5,348.8 L586.7,353.9 L587.0,351.8 L587.2,355.5 L587.4,352.6 L587.7,354.6 L587.9,353.4 L588.1,356.3 L588.4,357.8 L588.6,355.9 L588.8,355.3 L589.1,355.7 L589.3,356.8 L589.5,352.8 L589.8,351.6 L590.0,351.6 L590.2,353.9 L590.5,350.2 L590.8,346.8 L591.0,340.7 L591.2,342.9 L591.5,339.8 L591.8,340.5 L592.0,339.7 L592.2,335.8 L592.5,334.5 L592.8,328.5 L593.0,327.0 L593.2,326.3 L593.5,325.8 L593.7,326.0 L594.0,326.6 L594.2,330.0 L594.4,325.8 L594.7,325.8 L594.9,325.8 L595.2,326.2 L595.4,328.1 L595.6,328.9 L595.9,328.9 L596.1,327.6 L596.4,329.6 L596.6,330.3 L596.8,326.5 L597.1,326.6 L597.3,326.5 L597.6,326.5 L597.8,328.6 L598.0,328.6 L598.3,328.7 L598.5,326.3 L598.8,326.5 L599.0,324.4 L599.2,326.9 L599.5,328.7 L599.7,331.2 L600.0,331.2 L600.2,326.3 L600.5,325.0 L600.7,324.1 L600.9,324.5 L601.2,327.0 L601.4,327.0 L601.7,319.4 L601.9,317.7 L602.2,317.7 L602.4,320.6 L602.6,320.9 L602.9,321.4 L603.1,324.1 L603.4,320.0 L603.6,318.7 L603.8,321.3 L604.1,320.4 L604.3,316.8 L604.6,311.2 L604.8,311.2 L605.0,311.2 L605.3,311.2 L605.5,312.9 L605.8,314.8 L606.0,313.2 L606.2,311.3 L606.5,309.3 L606.7,314.3 L607.0,306.8 L607.2,308.2 L607.4,308.0 L607.7,309.0 L607.9,306.5 L608.2,306.7 L608.4,306.3 L608.6,304.6 L608.9,302.1 L609.1,300.8 L609.3,297.3 L609.6,297.4 L609.8,296.7 L610.1,296.8 L610.3,297.1 L610.5,297.5 L610.8,294.4 L611.0,294.5 L611.3,293.0 L611.5,292.9 L611.8,290.0 L612.0,288.6 L612.3,286.4 L612.5,283.9 L612.8,286.0 L613.0,288.1 L613.2,286.4 L613.5,283.9 L613.7,281.7 L614.0,280.3 L614.2,276.8 L614.5,279.1 L614.7,279.3 L615.0,278.1 L615.2,276.9 L615.5,281.7 L615.8,276.8 L616.0,283.7 L616.2,283.6 L616.5,283.8 L616.8,283.7 L617.0,283.8 L617.2,282.6 L617.5,284.2 L617.8,284.4 L618.0,284.6 L618.2,286.3 L618.5,283.4 L618.8,282.1 L619.0,284.4 L619.2,282.6 L619.5,282.4 L619.7,282.4 L620.0,280.7 L620.2,277.0 L620.4,278.3 L620.7,278.4 L620.9,280.2 L621.2,276.4 L621.5,278.2 L621.7,273.6 L622.0,272.7 L622.2,271.6 L622.5,271.9 L622.7,273.5 L623.0,275.0 L623.2,270.6 L623.4,272.4 L623.7,271.1 L623.9,269.2 L624.1,268.1 L624.4,271.0 L624.6,270.1 L624.9,271.1 L625.1,270.3 L625.4,271.6 L625.6,274.3 L625.9,276.2 L626.1,274.4 L626.3,276.2 L626.6,276.2 L626.8,274.4 L627.0,276.2 L627.3,271.5 L627.5,273.4 L627.7,274.0 L628.0,275.0 L628.2,272.1 L628.4,270.5 L628.7,267.8 L628.9,265.8 L629.1,268.8 L629.4,267.7 L629.6,266.8 L629.8,268.5 L630.1,266.9 L630.3,267.2 L630.5,267.8 L630.8,272.8 L631.0,272.8 L631.2,273.0 L631.5,269.2 L631.8,271.9 L632.0,273.1 L632.2,274.5 L632.5,275.1 L632.8,273.5 L633.0,275.2 L633.3,275.2 L633.5,272.5 L633.8,269.9 L634.0,268.1 L634.3,269.5 L634.5,264.9 L634.8,265.3 L635.0,264.6 L635.2,263.8 L635.5,266.3 L635.7,267.3 L636.0,268.3 L636.2,269.9 L636.4,268.0 L636.7,270.1 L636.9,273.1 L637.2,276.1 L637.4,274.9 L637.6,279.7 L637.9,283.1 L638.1,288.6 L638.4,290.0 L638.6,294.7 L638.8,302.7 L639.1,301.0 L639.3,301.5 L639.5,300.1 L639.8,297.2 L640.0,297.7 L640.3,295.2 L640.5,295.7 L640.8,297.0 L641.0,298.1 L641.3,295.8 L641.5,298.8 L641.7,294.0 L642.0,293.1 L642.2,290.8 L642.5,290.8 L642.7,290.8 L643.0,297.4 L643.2,298.5 L643.5,295.3 L643.7,298.3 L644.0,299.3 L644.2,299.6 L644.5,300.5 L644.8,300.4 L645.0,300.1 L645.2,297.3 L645.5,301.3 L645.8,305.8 L646.0,307.0 L646.2,307.0 L646.5,305.5 L646.8,306.4 L647.0,310.2 L647.2,310.5 L647.5,309.7 L647.7,310.8 L648.0,310.5 L648.2,312.5 L648.4,311.1 L648.7,309.1 L648.9,311.8 L649.1,312.5 L649.4,309.1 L649.6,309.1 L649.8,311.6 L650.1,309.0 L650.3,307.0 L650.6,310.8 L650.8,308.8 L651.0,309.0 L651.3,305.5 L651.5,309.0 L651.8,301.7 L652.0,301.1 L652.3,303.6 L652.5,304.7 L652.8,301.2 L653.0,299.3 L653.3,299.6 L653.5,295.2 L653.7,297.8 L654.0,298.6 L654.2,296.8 L654.5,297.4 L654.7,298.7 L655.0,297.9 L655.2,297.6 L655.5,298.6 L655.7,295.0 L655.9,295.3 L656.2,294.1 L656.4,297.4 L656.7,295.3 L656.9,296.7 L657.1,296.4 L657.4,296.2 L657.6,297.8 L657.8,297.4 L658.1,299.2 L658.3,299.2 L658.5,299.2 L658.8,298.9 L659.0,299.2 L659.3,299.2 L659.5,297.4 L659.8,297.3 L660.0,296.3 L660.2,295.6 L660.5,298.7 L660.8,294.3 L661.0,291.2 L661.2,291.2 L661.5,291.5 L661.7,290.2 L662.0,290.6 L662.2,292.1 L662.5,294.8 L662.7,293.3 L662.9,291.9 L663.2,288.7 L663.4,289.0 L663.6,291.5 L663.9,292.8 L664.1,286.8 L664.3,291.0 L664.6,292.8 L664.8,292.8 L665.1,289.4 L665.3,290.4 L665.5,291.8 L665.8,292.8 L666.0,290.4 L666.3,289.2 L666.5,293.7 L666.8,290.3 L667.0,294.6 L667.3,293.8 L667.6,293.8 L667.8,290.3 L668.1,289.5 L668.3,292.4 L668.6,288.2 L668.8,294.8 L669.1,289.2 L669.3,288.2 L669.6,289.4 L669.8,289.9 L670.1,291.0 L670.3,289.0 L670.6,288.1 L670.8,287.4 L671.0,286.0 L671.3,284.8 L671.5,286.6 L671.8,287.1 L672.0,286.8 L672.2,286.3 L672.5,287.7 L672.8,288.2 L673.0,288.6 L673.2,292.1 L673.5,287.1 L673.8,289.9 L674.0,289.8 L674.2,290.1 L674.5,294.6 L674.7,291.1 L675.0,292.2 L675.2,291.8 L675.4,295.7 L675.7,293.7 L675.9,293.5 L676.1,294.0 L676.4,292.6 L676.6,291.5 L676.8,294.5 L677.1,290.1 L677.3,289.3 L677.6,289.6 L677.8,289.3 L678.0,287.6 L678.3,289.3 L678.5,290.8 L678.8,287.8 L679.0,290.6 L679.3,281.5 L679.5,284.6 L679.8,282.3 L680.0,282.0 L680.3,280.7 L680.5,278.8 L680.8,276.5 L681.0,276.8 L681.2,281.0 L681.5,281.2 L681.7,278.6 L681.9,277.2 L682.2,275.4 L682.4,273.0 L682.7,279.5 L682.9,279.1 L683.1,277.0 L683.4,274.9 L683.6,273.7 L683.8,275.3 L684.1,275.7 L684.3,270.7 L684.5,272.9 L684.8,268.6 L685.0,269.3 L685.2,266.3 L685.5,264.8 L685.8,266.0 L686.0,265.7 L686.2,265.7 L686.5,262.0 L686.8,263.9 L687.0,264.0 L687.2,259.3 L687.5,256.6 L687.8,253.6 L688.0,252.3 L688.2,248.8 L688.5,250.1 L688.8,252.0 L689.0,257.0 L689.2,259.4 L689.5,260.5 L689.8,258.8 L690.0,259.7 L690.2,260.5 L690.5,262.8 L690.7,258.8 L690.9,265.3 L691.2,264.0 L691.4,267.2 L691.6,266.7 L691.9,265.0 L692.1,269.8 L692.3,266.7 L692.6,268.1 L692.8,265.9 L693.0,264.0 L693.3,264.0 L693.5,265.8 L693.8,262.0 L694.0,260.8 L694.3,259.2 L694.5,261.3 L694.8,262.5 L695.0,265.5 L695.2,268.7 L695.5,273.7 L695.7,274.2 L696.0,274.9 L696.2,276.5 L696.4,274.9 L696.7,271.8 L696.9,274.6 L697.2,270.5 L697.4,273.1 L697.6,268.7 L697.9,273.4 L698.1,268.2 L698.4,269.1 L698.6,269.0 L698.8,266.3 L699.1,268.6 L699.3,264.5 L699.6,259.3 L699.8,263.1 L700.0,264.4 L700.3,262.1 L700.5,257.8 L700.8,258.6 L701.0,258.8 L701.2,258.7 L701.5,258.8 L701.8,257.8 L702.0,257.8 L702.2,263.8 L702.5,263.8 L702.8,262.6 L703.0,261.6 L703.2,262.8 L703.5,265.5 L703.7,266.6 L704.0,262.2 L704.2,264.0 L704.4,265.0 L704.7,267.5 L704.9,267.5 L705.1,268.8 L705.4,270.8 L705.6,268.5 L705.8,270.8 L706.1,269.1 L706.3,269.5 L706.5,271.4 L706.8,268.5 L707.0,267.3 L707.3,267.2 L707.5,268.8 L707.8,270.1 L708.0,269.3 L708.3,270.7 L708.5,267.2 L708.7,267.2 L709.0,268.6 L709.2,268.6 L709.4,269.8 L709.7,270.8 L709.9,269.3 L710.1,265.8 L710.4,265.6 L710.6,266.7 L710.8,267.7 L711.1,265.5 L711.3,268.8 L711.5,265.2 L711.8,268.3 L712.0,268.5 L712.3,268.2 L712.5,268.8 L712.8,268.4 L713.0,267.4 L713.2,268.3 L713.5,268.8 L713.8,264.7 L714.0,266.4 L714.2,265.3 L714.5,266.8 L714.7,268.3 L715.0,267.3 L715.2,266.1 L715.5,265.9 L715.7,261.5 L715.9,263.2 L716.2,265.0 L716.4,264.5 L716.7,263.2 L716.9,262.4 L717.1,262.1 L717.4,264.7 L717.6,263.2 L717.9,265.0 L718.1,258.8 L718.3,258.8 L718.6,260.6 L718.8,260.8 L719.1,258.8 L719.3,259.2 L719.6,261.8 L719.8,259.0 L720.1,258.8 L720.3,258.8 L720.6,258.8 L720.8,262.3 L721.1,263.8 L721.3,260.0 L721.6,263.6 L721.8,262.8 L722.1,262.0 L722.3,266.9 L722.6,265.3 L722.8,261.4 L723.0,261.5 L723.3,261.8 L723.5,261.8 L723.8,263.6 L724.0,265.8 L724.2,265.9 L724.5,261.5 L724.8,267.2 L725.0,263.4 L725.2,263.0 L725.5,262.3 L725.8,263.2 L726.0,261.2 L726.2,261.8 L726.5,264.0 L726.8,261.4 L727.0,258.2 L727.2,258.6 L727.5,256.6 L727.8,256.2 L728.0,257.5 L728.2,258.4 L728.5,257.1 L728.8,258.5 L729.0,257.2 L729.2,255.2 L729.5,257.8 L729.7,256.6 L730.0,259.3 L730.2,256.9 L730.4,258.5 L730.7,258.3 L730.9,255.2 L731.1,255.7 L731.4,255.7 L731.6,259.5 L731.9,255.7 L732.1,259.6 L732.3,262.7 L732.6,262.4 L732.8,262.6 L733.1,260.7 L733.3,261.0 L733.5,261.8 L733.8,262.9 L734.0,264.6 L734.3,263.4 L734.5,261.6 L734.7,261.5 L735.0,264.2 L735.2,261.3 L735.5,262.0 L735.7,264.2 L735.9,264.1 L736.2,264.6 L736.4,263.7 L736.7,263.7 L736.9,265.0 L737.1,268.8 L737.4,265.5 L737.6,267.9 L737.9,269.5 L738.1,271.1 L738.4,274.3 L738.6,275.0 L738.9,270.9 L739.1,273.3 L739.4,272.5 L739.6,272.4 L739.8,276.0 L740.1,274.8 L740.3,273.5 L740.5,274.5 L740.8,274.4 L741.0,279.5 L741.3,280.3 L741.5,281.9 L741.7,283.2 L742.0,282.1 L742.2,286.0 L742.5,283.8 L742.7,284.0 L742.9,285.5 L743.2,287.2 L743.4,289.6 L743.6,289.6 L743.9,291.8 L744.1,292.6 L744.3,290.5 L744.6,291.7 L744.8,295.1 L745.0,296.9 L745.3,298.6 L745.5,300.4 L745.8,300.4 L746.0,299.9 L746.3,301.7 L746.5,298.4 L746.8,295.2 L747.0,295.6 L747.3,295.2 L747.5,292.6 L747.8,290.6 L748.0,290.5 L748.3,291.2 L748.6,288.9 L748.8,287.9 L749.1,286.2 L749.3,287.1 L749.6,286.8 L749.8,287.5 L750.1,284.7 L750.3,284.7 L750.5,285.2 L750.8,284.7 L751.0,285.0 L751.2,285.6 L751.5,286.6 L751.8,284.7 L752.0,286.3 L752.2,287.6 L752.5,287.0 L752.8,288.8 L753.0,288.7 L753.2,288.9 L753.5,287.9 L753.8,289.8 L754.0,289.6 L754.2,291.2 L754.5,290.5 L754.8,286.5 L755.0,285.7 L755.2,286.9 L755.5,284.3 L755.8,284.3 L756.0,283.3 L756.2,282.9 L756.5,280.8 L756.7,280.9 L757.0,282.7 L757.2,283.4 L757.4,281.5 L757.7,285.7 L757.9,284.2 L758.2,283.1 L758.4,283.1 L758.6,284.0 L758.9,282.2 L759.1,282.2 L759.4,287.2 L759.6,287.2 L759.8,287.2 L760.1,287.2 L760.3,287.2 L760.6,283.8 L760.8,286.1 L761.0,287.2 L761.3,287.2 L761.5,281.2 L761.8,285.9 L762.0,287.2 L762.2,284.1 L762.5,283.7 L762.7,283.9 L762.9,283.2 L763.2,284.8 L763.4,283.8 L763.7,284.5 L763.9,282.9 L764.1,278.8 L764.4,278.8 L764.6,283.0 L764.8,283.5 L765.1,286.0 L765.3,286.8 L765.5,286.8 L765.8,286.8 L766.0,284.3 L766.3,284.6 L766.5,283.2 L766.8,284.1 L767.0,287.6 L767.2,283.2 L767.5,286.3 L767.8,290.4 L768.0,293.3 L768.2,290.3 L768.5,290.8 L768.7,289.7 L769.0,289.7 L769.2,293.2 L769.5,300.4 L769.7,295.3 L769.9,299.7 L770.2,299.5 L770.4,298.7 L770.6,303.1 L770.9,297.0 L771.1,299.1 L771.4,301.5 L771.6,306.8 L771.9,306.8 L772.1,306.8 L772.4,306.7 L772.6,308.4 L772.9,310.8 L773.1,310.4 L773.3,309.8 L773.6,308.2 L773.8,307.4 L774.1,306.2 L774.3,310.3 L774.5,309.4 L774.8,307.2 L775.0,307.8 L775.2,308.8 L775.5,310.0 L775.7,312.2 L776.0,311.4 L776.2,310.5 L776.5,307.7 L776.7,306.7 L777.0,304.4 L777.2,304.4 L777.5,310.5 L777.7,304.8 L778.0,300.2 L778.2,302.0 L778.5,301.7 L778.8,300.8 L779.0,299.4 L779.2,298.1 L779.5,296.0 L779.8,295.2 L780.0,292.5 L780.2,295.5 L780.5,293.3 L780.8,293.4 L781.0,291.9 L781.2,295.5 L781.5,296.1 L781.8,296.2 L782.0,298.8 L782.2,303.5 L782.5,303.5 L782.8,300.7 L783.0,301.7 L783.2,304.3 L783.5,305.2 L783.7,307.4 L783.9,311.0 L784.2,310.6 L784.4,309.6 L784.6,312.4 L784.9,313.2 L785.1,314.8 L785.4,314.4 L785.6,314.0 L785.9,316.5 L786.1,316.0 L786.4,314.2 L786.6,314.2 L786.8,316.1 L787.1,314.2 L787.3,314.2 L787.6,316.2 L787.8,314.2 L788.0,316.1 L788.3,313.9 L788.5,316.1 L788.8,313.9 L789.0,314.9 L789.2,314.6 L789.5,314.0 L789.7,311.9 L789.9,311.8 L790.2,311.8 L790.4,317.0 L790.7,314.4 L790.9,316.4 L791.1,316.2 L791.4,316.8 L791.6,317.3 L791.9,315.0 L792.1,316.7 L792.4,317.0 L792.6,317.0 L792.9,315.9 L793.1,316.4 L793.4,317.1 L793.6,318.5 L793.8,323.7 L794.1,326.8 L794.3,325.0 L794.5,326.1 L794.8,322.1 L795.0,318.5 L795.3,319.1 L795.5,323.8 L795.7,326.9 L796.0,326.6 L796.2,324.0 L796.5,325.0 L796.7,323.7 L796.9,323.2 L797.2,326.1 L797.4,327.5 L797.6,325.0 L797.9,322.6 L798.1,320.8 L798.3,322.9 L798.6,325.3 L798.8,322.3 L799.0,323.8 L799.3,318.5 L799.5,318.9 L799.8,314.8 L800.0,315.4 L800.3,315.4 L800.5,316.5 L800.8,317.8 L801.0,315.9 L801.2,313.8 L801.5,314.5 L801.7,316.0 L802.0,314.7 L802.2,317.6 L802.5,318.2 L802.7,314.9 L803.0,316.6 L803.2,317.4 L803.5,313.1 L803.7,313.8 L804.0,312.9 L804.2,309.2 L804.5,314.0 L804.7,312.6 L805.0,310.7 L805.2,310.9 L805.5,311.4 L805.8,312.0 L806.0,311.3 L806.2,310.0 L806.5,305.2 L806.8,305.0 L807.0,305.4 L807.2,303.8 L807.5,307.8 L807.8,305.8 L808.0,303.8 L808.2,303.8 L808.5,305.2 L808.8,305.9 L809.0,305.2 L809.2,305.6 L809.5,305.1 L809.8,306.3 L810.0,308.6 L810.2,308.4 L810.5,311.8 L810.7,312.0 L810.9,313.4 L811.2,314.9 L811.4,316.4 L811.6,318.4 L811.9,319.0 L812.1,318.5 L812.4,317.2 L812.6,318.7 L812.9,321.4 L813.1,322.4 L813.4,321.8 L813.6,319.2 L813.8,319.2 L814.1,323.1 L814.3,325.7 L814.5,327.1 L814.8,323.8 L815.0,325.4 L815.3,327.8 L815.5,327.0 L815.8,329.5 L816.1,330.6 L816.3,330.1 L816.6,329.3 L816.9,335.5 L817.1,337.5 L817.4,337.6 L817.7,337.9 L817.9,343.8 L818.2,347.4 L818.4,347.9 L818.7,351.8 L818.9,354.2 L819.2,354.1 L819.4,361.4 L819.7,362.9 L819.9,366.1 L820.1,371.2 L820.4,373.2 L820.6,377.0 L820.9,384.7 L821.1,399.8 L821.4,407.9 L821.6,417.0 L821.8,420.1 L822.0,407.6 L822.2,400.2 L822.5,391.8 L822.8,379.9 L823.0,368.3 L823.3,366.5 L823.5,360.8 L823.8,356.5 L824.0,346.7 L824.3,345.5 L824.5,339.6 L824.8,334.0 L825.0,334.5 L825.3,333.7 L825.5,331.8 L825.8,331.1 L826.0,337.3 L826.3,342.6 L826.5,349.0 L826.8,355.7 L827.0,353.6 L827.3,343.3 L827.5,342.2 L827.8,337.3 L828.0,343.5 L828.3,347.3 L828.5,355.0 L828.8,357.3 L829.1,351.9 L829.4,345.5 L829.7,351.3 L830.0,351.4 L830.2,348.3 L830.5,350.5 L830.8,352.2 L831.0,349.6 L831.2,349.4 L831.5,347.1 L831.7,344.6 L832.0,347.7 L832.2,350.5 L832.5,346.9 L832.7,343.9 L833.0,344.5 L833.2,342.3 L833.5,343.5 L833.7,343.9 L834.0,338.8 L834.2,337.0 L834.5,338.0 L834.8,340.2 L835.0,341.2 L835.3,344.6 L835.5,339.4 L835.8,342.6 L836.1,341.6 L836.3,343.3 L836.6,344.5 L836.9,343.6 L837.1,344.4 L837.4,342.8 L837.7,346.3 L837.9,345.4 L838.2,346.7 L838.4,349.3 L838.7,349.7 L839.0,347.2 L839.2,339.2 L839.5,335.3 L839.8,336.0 L840.0,333.7 L840.3,334.3 L840.5,333.2 L840.8,334.3 L841.1,335.5 L841.3,339.5 L841.6,338.0 L841.9,340.9 L842.1,341.1 L842.4,336.7 L842.7,336.0 L842.9,338.0 L843.2,336.0 L843.4,339.6 L843.7,341.3 L844.0,336.1 L844.2,328.2 L844.5,321.4 L844.8,322.4 L845.0,322.0 L845.2,321.2 L845.5,321.8 L845.8,325.6 L846.0,324.2 L846.2,323.6 L846.5,319.6 L846.7,317.6 L847.0,314.2 L847.2,315.4 L847.4,317.4 L847.7,316.4 L847.9,314.2 L848.2,313.5 L848.5,310.0 L848.7,309.0 L849.0,306.7 L849.2,306.8 L849.5,299.8 L849.7,299.8 L850.0,302.0 L850.2,301.4 L850.4,306.6 L850.7,305.8 L850.9,304.7 L851.2,310.3 L851.4,310.6 L851.7,312.0 L851.9,311.8 L852.1,312.5 L852.4,315.1 L852.6,313.2 L852.9,313.8 L853.1,314.8 L853.4,317.1 L853.6,319.9 L853.8,317.8 L854.1,317.5 L854.3,314.8 L854.5,316.6 L854.8,308.2 L855.0,309.4 L855.3,310.5 L855.5,308.8 L855.8,309.6 L856.0,308.6 L856.2,310.3 L856.5,309.8 L856.8,307.7 L857.0,304.0 L857.2,300.3 L857.5,300.0 L857.7,300.6 L858.0,302.8 L858.2,302.8 L858.5,311.8 L858.7,305.6 L858.9,309.9 L859.2,308.8 L859.4,309.8 L859.6,312.5 L859.9,313.2 L860.1,310.8 L860.4,314.5 L860.6,315.3 L860.9,312.2 L861.1,316.9 L861.4,318.0 L861.6,316.1 L861.9,317.6 L862.1,317.9 L862.3,316.0 L862.6,319.6 L862.8,316.3 L863.0,313.9 L863.3,313.4 L863.5,311.7 L863.8,306.7 L864.0,306.7 L864.3,306.7 L864.5,309.0 L864.8,306.7 L865.0,304.4 L865.2,302.0 L865.5,303.7 L865.7,301.6 L866.0,303.0 L866.2,303.0 L866.5,303.0 L866.7,298.0 L867.0,295.5 L867.2,294.0 L867.5,293.1 L867.8,288.2 L868.0,288.5 L868.2,288.2 L868.5,288.2 L868.8,291.6 L869.0,290.5 L869.2,291.8 L869.5,291.8 L869.8,291.8 L870.0,291.8 L870.2,287.8 L870.5,288.8 L870.8,286.4 L871.0,285.3 L871.2,286.8 L871.5,287.5 L871.8,284.0 L872.0,287.3 L872.2,285.1 L872.5,281.1 L872.7,281.2 L873.0,281.6 L873.2,281.5 L873.4,279.3 L873.7,276.8 L873.9,278.1 L874.1,280.6 L874.3,282.8 L874.6,283.0 L874.8,282.8 L875.0,281.4 L875.3,282.4 L875.5,284.2 L875.8,285.5 L876.0,284.6 L876.3,284.1 L876.5,281.7 L876.8,281.5 L877.0,275.6 L877.3,275.4 L877.5,280.7 L877.8,275.8 L878.0,273.2 L878.3,275.4 L878.5,272.9 L878.7,274.8 L879.0,278.5 L879.2,281.7 L879.4,283.4 L879.7,285.3 L879.9,287.6 L880.1,286.6 L880.4,284.5 L880.6,286.1 L880.8,286.4 L881.1,285.4 L881.3,283.5 L881.5,283.3 L881.8,282.2 L882.0,282.2 L882.3,282.8 L882.5,283.3 L882.8,282.9 L883.0,285.6 L883.2,284.5 L883.5,282.6 L883.8,278.4 L884.0,277.5 L884.2,279.3 L884.5,278.3 L884.8,277.7 L885.0,273.3 L885.2,274.0 L885.5,273.0 L885.7,274.1 L886.0,270.9 L886.2,268.9 L886.4,268.7 L886.6,269.5 L886.9,273.0 L887.1,271.7 L887.4,271.0 L887.6,271.0 L887.9,273.6 L888.1,274.4 L888.4,275.2 L888.6,271.7 L888.9,276.2 L889.1,276.2 L889.3,274.0 L889.6,268.9 L889.8,269.1 L890.0,268.7 L890.3,261.7 L890.5,263.2 L890.8,260.5 L891.0,262.7 L891.3,263.4 L891.5,263.8 L891.8,257.5 L892.0,260.9 L892.2,260.2 L892.5,255.8 L892.7,254.6 L893.0,255.8 L893.2,252.3 L893.5,250.1 L893.7,247.1 L894.0,247.5 L894.2,244.8 L894.5,250.3 L894.8,247.9 L895.0,252.4 L895.2,249.4 L895.5,251.5 L895.8,251.7 L896.0,255.8 L896.2,252.0 L896.5,257.1 L896.8,257.1 L897.0,260.3 L897.2,259.2 L897.5,260.0 L897.8,258.5 L898.0,261.2 L898.2,258.5 L898.5,257.4 L898.7,259.0 L899.0,259.0 L899.2,259.0 L899.4,255.6 L899.7,256.1 L899.9,253.8 L900.1,254.9 L900.4,254.8 L900.6,253.8 L900.9,253.8 L901.1,260.5 L901.4,261.7 L901.6,260.0 L901.9,266.7 L902.1,264.5 L902.3,265.0 L902.6,267.4 L902.8,267.4 L903.0,266.7 L903.3,266.7 L903.5,273.0 L903.7,275.9 L904.0,272.1 L904.2,275.9 L904.5,276.8 L904.7,278.6 L905.0,278.8 L905.2,280.1 L905.5,278.2 L905.7,279.2 L906.0,274.9 L906.2,272.5 L906.5,272.9 L906.7,268.7 L906.9,269.4 L907.2,263.8 L907.4,259.9 L907.6,259.0 L907.8,259.8 L908.1,258.6 L908.3,256.8 L908.5,256.8 L908.8,256.8 L909.0,259.1 L909.2,261.7 L909.5,264.4 L909.8,264.4 L910.0,264.0 L910.2,264.3 L910.5,264.0 L910.8,266.5 L911.0,270.0 L911.2,276.2 L911.5,273.8 L911.7,270.9 L912.0,269.0 L912.2,272.0 L912.5,274.6 L912.7,271.1 L912.9,271.5 L913.2,269.5 L913.4,268.7 L913.6,266.9 L913.9,266.2 L914.1,265.6 L914.4,268.0 L914.6,270.0 L914.9,262.1 L915.1,263.0 L915.4,261.9 L915.6,262.9 L915.9,263.5 L916.1,263.4 L916.3,262.3 L916.6,257.3 L916.8,255.2 L917.0,257.8 L917.3,258.8 L917.5,254.1 L917.8,257.0 L918.0,255.5 L918.3,250.7 L918.5,251.7 L918.8,248.3 L919.0,251.9 L919.2,248.1 L919.5,246.4 L919.7,245.5 L920.0,244.3 L920.2,247.2 L920.5,243.9 L920.7,241.8 L921.0,244.8 L921.2,250.4 L921.5,252.8 L921.8,251.5 L922.0,250.4 L922.2,251.6 L922.5,257.6 L922.8,262.5 L923.0,261.4 L923.2,264.5 L923.5,266.6 L923.8,269.2 L924.0,272.7 L924.2,274.2 L924.5,269.8 L924.8,269.9 L925.0,269.2 L925.2,264.3 L925.5,261.8 L925.7,257.4 L926.0,259.2 L926.2,255.3 L926.4,252.3 L926.7,251.9 L926.9,249.6 L927.1,249.2 L927.4,251.0 L927.6,257.7 L927.9,256.9 L928.1,258.8 L928.4,257.9 L928.6,257.2 L928.9,263.6 L929.1,263.0 L929.3,260.6 L929.6,264.5 L929.8,267.6 L930.0,264.1 L930.3,262.5 L930.5,264.2 L930.8,261.6 L931.0,264.8 L931.3,265.8 L931.5,264.2 L931.8,262.0 L932.0,261.2 L932.3,259.2 L932.5,258.9 L932.8,259.6 L933.0,258.0 L933.2,259.9 L933.5,262.2 L933.7,257.4 L933.9,258.5 L934.2,260.7 L934.4,261.6 L934.6,259.7 L934.9,259.0 L935.1,261.1 L935.4,263.3 L935.6,265.1 L935.9,262.9 L936.1,266.3 L936.4,268.2 L936.6,267.9 L936.8,276.9 L937.0,289.7 L937.3,288.7 L937.5,298.3" fill="none" stroke="#0b1c9e" stroke-width="3.9" stroke-linejoin="round" stroke-linecap="round"/>
<path d="M55.2,219.0 L55.5,219.2 L55.7,219.4 L56.0,224.6 L56.2,229.6 L56.5,231.0 L56.7,229.5 L57.0,228.5 L57.2,231.5 L57.5,235.1 L57.7,236.6 L57.9,233.8 L58.2,238.0 L58.4,234.4 L58.7,233.9 L58.9,232.3 L59.1,231.5 L59.4,232.1 L59.6,231.6 L59.9,231.7 L60.1,228.0 L60.4,224.4 L60.6,231.0 L60.9,228.3 L61.1,228.4 L61.4,227.9 L61.6,225.7 L61.8,224.4 L62.1,220.1 L62.3,216.6 L62.6,220.5 L62.8,221.3 L63.0,220.8 L63.3,214.7 L63.5,212.9 L63.8,212.9 L64.0,212.9 L64.2,212.1 L64.5,209.3 L64.7,212.8 L65.0,208.8 L65.2,206.3 L65.4,208.1 L65.7,206.7 L65.9,202.8 L66.2,203.5 L66.4,203.4 L66.6,201.2 L66.9,201.1 L67.1,199.8 L67.3,199.8 L67.6,201.9 L67.8,203.4 L68.0,205.3 L68.3,205.8 L68.5,201.3 L68.8,202.3 L69.0,202.6 L69.3,203.1 L69.5,200.0 L69.8,200.9 L70.0,198.5 L70.2,202.3 L70.5,199.0 L70.7,191.2 L71.0,192.7 L71.2,191.8 L71.4,189.9 L71.7,185.3 L71.9,188.9 L72.2,182.1 L72.4,181.3 L72.6,176.3 L72.9,175.8 L73.1,175.8 L73.3,176.1 L73.6,177.9 L73.8,174.5 L74.0,170.0 L74.3,170.9 L74.5,171.1 L74.8,167.4 L75.0,164.7 L75.2,165.7 L75.5,167.9 L75.8,166.6 L76.0,165.7 L76.2,162.3 L76.5,156.3 L76.8,159.0 L77.0,157.1 L77.2,157.9 L77.5,157.4 L77.8,157.2 L78.0,154.1 L78.2,157.7 L78.5,154.9 L78.8,153.9 L79.0,152.3 L79.2,156.4 L79.5,158.0 L79.8,154.4 L80.0,157.9 L80.2,163.7 L80.5,165.6 L80.7,166.9 L80.9,167.5 L81.1,159.8 L81.3,152.0 L81.6,145.6 L81.8,142.1 L82.0,142.9 L82.3,144.9 L82.5,144.9 L82.7,144.9 L83.0,144.9 L83.2,142.8 L83.5,146.4 L83.7,146.5 L84.0,147.2 L84.2,147.1 L84.5,145.4 L84.7,145.8 L85.0,140.9 L85.2,136.3 L85.5,134.6 L85.7,134.5 L85.9,128.9 L86.2,127.7 L86.4,127.3 L86.6,126.7 L86.8,133.6 L87.1,133.9 L87.3,136.7 L87.6,137.0 L87.8,140.7 L88.1,142.9 L88.3,144.2 L88.6,147.9 L88.8,146.8 L89.1,150.5 L89.3,151.6 L89.5,151.1 L89.8,154.1 L90.0,157.4 L90.2,157.4 L90.5,160.3 L90.8,162.9 L91.0,166.7 L91.2,163.3 L91.5,164.8 L91.8,166.7 L92.0,171.1 L92.2,170.7 L92.5,171.9 L92.8,168.4 L93.0,170.1 L93.2,174.1 L93.5,173.5 L93.7,178.2 L93.9,175.4 L94.2,175.3 L94.4,175.0 L94.6,178.0 L94.8,180.4 L95.1,184.9 L95.3,184.3 L95.5,185.4 L95.8,183.0 L96.0,186.6 L96.3,190.2 L96.5,190.4 L96.8,191.2 L97.0,191.1 L97.3,187.8 L97.5,187.1 L97.8,185.1 L98.0,182.3 L98.3,184.5 L98.5,183.7 L98.8,179.1 L99.0,180.2 L99.3,179.8 L99.5,180.2 L99.8,179.2 L100.1,181.5 L100.4,196.6 L100.7,211.8 L101.0,219.1 L101.2,221.5 L101.5,230.7 L101.8,238.9 L102.0,245.6 L102.2,249.8 L102.5,256.1 L102.8,264.6 L103.0,272.2 L103.2,277.9 L103.5,278.8 L103.8,277.4 L104.0,273.5 L104.2,281.1 L104.5,282.9 L104.7,284.2 L105.0,283.4 L105.2,288.2 L105.4,284.9 L105.7,289.3 L105.9,291.8 L106.1,293.6 L106.4,297.7 L106.6,296.9 L106.8,297.5 L107.1,299.6 L107.3,298.0 L107.5,298.5 L107.8,300.1 L108.0,303.9 L108.3,301.6 L108.5,304.7 L108.8,305.1 L109.0,303.4 L109.3,302.9 L109.5,303.9 L109.8,309.6 L110.0,311.7 L110.3,315.2 L110.5,318.3 L110.7,316.8 L111.0,320.5 L111.2,321.5 L111.5,324.1 L111.7,326.5 L112.0,323.8 L112.2,328.0 L112.5,328.2 L112.7,330.5 L112.9,332.0 L113.2,335.1 L113.4,337.4 L113.6,339.0 L113.9,339.9 L114.1,343.7 L114.3,344.2 L114.6,343.1 L114.8,347.4 L115.1,353.8 L115.3,353.0 L115.6,353.7 L115.8,352.8 L116.0,352.6 L116.3,344.5 L116.5,339.3 L116.8,336.1 L117.0,340.0 L117.2,331.4 L117.5,326.0 L117.7,327.0 L118.0,323.0 L118.2,322.8 L118.5,322.8 L118.7,326.6 L118.9,328.2 L119.2,331.4 L119.4,330.2 L119.7,331.4 L119.9,332.0 L120.2,332.8 L120.4,337.6 L120.7,337.2 L120.9,337.6 L121.2,337.6 L121.4,336.4 L121.6,338.6 L121.9,338.0 L122.1,339.3 L122.3,340.5 L122.6,341.2 L122.8,341.6 L123.0,345.2 L123.3,344.4 L123.5,346.6 L123.8,348.2 L124.0,348.2 L124.3,348.2 L124.5,348.2 L124.8,348.2 L125.0,348.2 L125.2,340.5 L125.5,343.0 L125.7,339.1 L126.0,333.7 L126.2,331.2 L126.5,327.5 L126.7,328.9 L127.0,327.1 L127.2,324.6 L127.5,325.1 L127.8,324.9 L128.0,321.6 L128.2,321.1 L128.5,320.6 L128.8,320.1 L129.0,319.0 L129.2,317.5 L129.5,318.5 L129.8,312.6 L130.0,311.9 L130.2,312.8 L130.5,311.3 L130.8,310.2 L131.0,309.7 L131.2,310.8 L131.5,314.0 L131.7,313.2 L132.0,312.7 L132.2,314.5 L132.4,314.1 L132.7,310.4 L132.9,314.5 L133.2,315.4 L133.4,316.2 L133.6,318.0 L133.9,318.6 L134.1,317.8 L134.4,315.4 L134.6,315.4 L134.8,317.7 L135.1,320.0 L135.3,322.5 L135.6,323.4 L135.8,323.3 L136.0,319.6 L136.3,316.5 L136.5,316.8 L136.7,314.0 L137.0,316.5 L137.2,313.8 L137.4,309.0 L137.7,308.6 L137.9,303.7 L138.2,309.7 L138.4,305.3 L138.7,304.6 L138.9,303.1 L139.2,300.3 L139.4,295.5 L139.6,293.1 L139.9,297.5 L140.1,299.1 L140.4,300.1 L140.6,294.4 L140.8,294.1 L141.1,292.4 L141.3,293.1 L141.6,289.1 L141.8,289.8 L142.1,289.3 L142.3,287.2 L142.6,285.8 L142.8,283.9 L143.1,285.6 L143.3,280.8 L143.6,283.8 L143.8,273.0 L144.0,274.9 L144.3,273.7 L144.5,273.9 L144.8,276.3 L145.0,277.9 L145.2,277.2 L145.5,278.6 L145.8,275.5 L146.0,276.0 L146.2,279.7 L146.5,280.6 L146.7,275.4 L146.9,279.3 L147.2,278.7 L147.4,282.8 L147.7,287.0 L147.9,285.8 L148.2,290.0 L148.4,288.5 L148.6,292.0 L148.9,294.2 L149.1,293.8 L149.3,293.4 L149.5,291.7 L149.8,285.4 L150.0,286.4 L150.2,285.6 L150.5,287.9 L150.7,286.1 L150.9,281.9 L151.2,282.8 L151.4,282.7 L151.7,280.4 L151.9,282.1 L152.2,279.4 L152.5,279.1 L152.7,278.0 L153.0,276.9 L153.2,276.9 L153.5,279.2 L153.7,277.6 L154.0,276.9 L154.2,277.0 L154.5,276.9 L154.7,277.2 L155.0,278.2 L155.2,279.6 L155.5,279.4 L155.8,279.2 L156.0,280.0 L156.2,280.1 L156.5,279.4 L156.8,276.9 L157.0,276.9 L157.2,276.9 L157.5,276.9 L157.8,278.1 L158.0,279.0 L158.2,279.2 L158.5,279.4 L158.7,278.8 L159.0,279.9 L159.2,281.1 L159.4,281.1 L159.7,281.1 L159.9,280.6 L160.2,279.9 L160.4,281.1 L160.6,280.9 L160.9,281.0 L161.1,280.0 L161.4,281.1 L161.6,279.9 L161.8,278.5 L162.1,278.9 L162.3,278.8 L162.6,280.2 L162.8,279.5 L163.0,278.2 L163.3,276.5 L163.5,275.8 L163.8,273.0 L164.0,274.0 L164.2,269.6 L164.5,268.8 L164.7,267.6 L164.9,267.1 L165.2,265.7 L165.4,265.1 L165.7,262.7 L165.9,260.2 L166.2,258.0 L166.4,257.7 L166.7,256.8 L167.0,257.4 L167.2,258.1 L167.5,259.7 L167.7,258.8 L168.0,257.3 L168.2,256.3 L168.5,257.9 L168.7,258.9 L169.0,260.1 L169.2,260.5 L169.5,262.7 L169.8,264.1 L170.0,261.0 L170.2,263.4 L170.5,264.1 L170.8,264.1 L171.0,263.4 L171.2,264.0 L171.5,263.1 L171.7,263.6 L172.0,264.2 L172.2,267.6 L172.5,266.4 L172.7,268.2 L172.9,267.7 L173.2,266.5 L173.4,267.9 L173.7,269.1 L173.9,268.7 L174.1,270.0 L174.4,269.5 L174.6,268.9 L174.9,270.8 L175.1,271.2 L175.3,270.4 L175.6,269.6 L175.8,272.2 L176.1,273.9 L176.3,274.3 L176.5,273.5 L176.8,270.5 L177.0,270.9 L177.3,270.8 L177.5,270.0 L177.7,267.5 L178.0,267.0 L178.2,266.2 L178.5,266.1 L178.7,264.5 L178.9,263.5 L179.2,261.3 L179.4,261.8 L179.7,262.3 L179.9,259.0 L180.1,258.9 L180.4,257.6 L180.6,255.8 L180.9,253.3 L181.1,254.2 L181.3,253.2 L181.6,255.3 L181.8,256.0 L182.1,259.7 L182.3,259.2 L182.5,260.5 L182.8,262.3 L183.0,263.2 L183.2,263.7 L183.5,265.8 L183.8,267.2 L184.0,269.5 L184.2,268.4 L184.5,269.4 L184.8,270.1 L185.0,271.0 L185.2,270.9 L185.5,270.9 L185.7,272.3 L186.0,270.1 L186.2,269.9 L186.4,270.9 L186.7,268.8 L186.9,267.8 L187.2,267.2 L187.4,265.6 L187.7,264.6 L187.9,265.6 L188.1,265.1 L188.4,264.2 L188.6,261.8 L188.9,262.2 L189.1,264.0 L189.4,260.5 L189.6,259.1 L189.8,261.5 L190.1,262.4 L190.3,262.2 L190.6,259.3 L190.8,258.8 L191.0,257.4 L191.3,257.7 L191.5,256.5 L191.8,256.4 L192.0,258.1 L192.3,257.0 L192.5,255.1 L192.8,254.5 L193.0,254.3 L193.3,252.7 L193.5,252.8 L193.8,252.8 L194.0,252.9 L194.2,250.3 L194.5,249.0 L194.8,247.9 L195.0,250.2 L195.2,252.8 L195.5,251.7 L195.8,250.3 L196.0,251.2 L196.2,245.3 L196.5,246.4 L196.8,245.3 L197.0,245.5 L197.2,245.8 L197.5,245.8 L197.8,247.0 L198.0,246.9 L198.2,249.7 L198.5,249.8 L198.8,250.8 L199.0,254.3 L199.2,252.4 L199.5,253.6 L199.8,252.3 L200.0,254.0 L200.2,255.6 L200.5,256.1 L200.7,258.1 L201.0,260.7 L201.2,262.0 L201.4,260.5 L201.7,260.2 L201.9,262.1 L202.2,260.5 L202.4,261.6 L202.7,264.8 L202.9,268.3 L203.2,272.8 L203.4,273.4 L203.6,276.8 L203.9,278.9 L204.1,278.1 L204.3,281.3 L204.5,280.8 L204.8,279.6 L205.0,279.0 L205.3,279.3 L205.5,276.2 L205.7,275.1 L206.0,272.4 L206.2,275.1 L206.5,273.1 L206.7,272.1 L207.0,272.2 L207.2,271.1 L207.5,272.0 L207.7,269.8 L208.0,272.6 L208.2,270.7 L208.5,268.4 L208.7,266.8 L209.0,265.4 L209.2,266.3 L209.5,267.4 L209.8,266.7 L210.0,264.4 L210.2,266.2 L210.5,267.4 L210.8,264.5 L211.0,264.6 L211.2,264.7 L211.5,266.2 L211.7,266.8 L212.0,265.8 L212.2,265.1 L212.5,266.9 L212.7,265.1 L212.9,266.6 L213.2,266.8 L213.4,268.7 L213.7,268.7 L213.9,267.7 L214.1,266.4 L214.4,265.1 L214.6,263.1 L214.8,263.2 L215.1,263.7 L215.3,261.0 L215.6,259.8 L215.8,261.5 L216.1,260.8 L216.3,257.1 L216.6,255.4 L216.8,254.6 L217.0,254.4 L217.3,258.2 L217.5,259.5 L217.8,259.5 L218.0,259.0 L218.2,261.5 L218.5,263.4 L218.7,266.5 L218.9,267.1 L219.2,268.4 L219.4,271.4 L219.7,272.8 L219.9,272.5 L220.2,270.3 L220.4,274.9 L220.7,276.1 L220.9,274.9 L221.2,274.1 L221.4,271.9 L221.6,270.5 L221.9,269.1 L222.1,271.0 L222.4,271.3 L222.6,270.4 L222.8,270.4 L223.1,270.0 L223.3,268.7 L223.6,265.9 L223.8,266.7 L224.0,267.3 L224.3,265.9 L224.5,264.9 L224.7,263.3 L225.0,260.9 L225.2,262.7 L225.4,260.0 L225.7,259.8 L225.9,258.5 L226.2,257.8 L226.4,256.8 L226.7,255.6 L226.9,252.6 L227.2,256.5 L227.4,255.2 L227.7,250.7 L227.9,250.4 L228.2,250.2 L228.4,250.3 L228.6,247.8 L228.9,249.5 L229.1,252.2 L229.4,250.5 L229.6,251.2 L229.8,251.0 L230.1,247.8 L230.3,249.8 L230.6,247.1 L230.8,247.3 L231.0,246.9 L231.3,248.7 L231.5,248.1 L231.8,247.3 L232.0,245.5 L232.2,246.2 L232.5,246.3 L232.7,247.1 L233.0,247.6 L233.2,246.7 L233.4,246.1 L233.7,245.4 L233.9,246.8 L234.2,246.3 L234.4,245.1 L234.6,246.8 L234.9,246.8 L235.1,245.7 L235.4,243.9 L235.6,242.8 L235.8,243.6 L236.1,242.3 L236.3,243.5 L236.6,241.2 L236.8,241.4 L237.0,241.8 L237.3,241.4 L237.5,241.1 L237.8,240.8 L238.0,239.5 L238.2,238.3 L238.5,238.4 L238.7,241.1 L239.0,239.8 L239.2,237.4 L239.4,236.7 L239.7,237.5 L239.9,239.1 L240.2,237.4 L240.4,237.6 L240.7,237.5 L240.9,236.7 L241.2,235.2 L241.4,235.6 L241.7,234.8 L241.9,236.5 L242.2,234.7 L242.4,236.5 L242.7,236.8 L242.9,236.4 L243.1,237.1 L243.4,237.1 L243.6,234.7 L243.8,235.3 L244.1,236.3 L244.3,235.7 L244.6,234.9 L244.8,236.4 L245.1,237.7 L245.3,237.0 L245.6,237.3 L245.8,237.6 L246.0,237.6 L246.3,238.6 L246.5,241.5 L246.7,238.7 L247.0,240.3 L247.2,242.7 L247.4,243.6 L247.7,244.1 L247.9,245.7 L248.2,243.6 L248.4,243.3 L248.7,244.2 L249.0,241.3 L249.2,241.3 L249.5,241.8 L249.7,239.2 L250.0,236.9 L250.2,236.6 L250.5,235.4 L250.8,234.2 L251.0,229.8 L251.2,228.6 L251.5,224.0 L251.8,226.1 L252.0,224.6 L252.2,223.8 L252.5,224.3 L252.8,224.2 L253.0,222.6 L253.2,220.5 L253.5,218.3 L253.8,215.4 L254.0,214.1 L254.2,215.2 L254.5,211.9 L254.7,209.6 L254.9,209.4 L255.2,209.5 L255.4,208.1 L255.6,206.3 L255.9,205.8 L256.1,205.0 L256.3,202.9 L256.6,203.9 L256.8,203.6 L257.1,204.2 L257.3,204.1 L257.6,201.7 L257.8,201.8 L258.1,201.0 L258.3,200.5 L258.5,199.5 L258.8,200.7 L259.0,198.9 L259.2,195.4 L259.5,195.3 L259.7,197.4 L260.0,198.9 L260.2,196.0 L260.4,195.0 L260.7,194.1 L260.9,191.6 L261.2,193.1 L261.4,192.8 L261.7,192.8 L261.9,194.4 L262.2,191.9 L262.4,194.5 L262.7,197.1 L262.9,196.7 L263.1,197.5 L263.4,201.7 L263.6,202.8 L263.8,204.6 L264.1,204.3 L264.3,208.2 L264.5,210.3 L264.8,213.7 L265.0,213.7 L265.2,215.0 L265.5,214.8 L265.8,214.5 L266.0,213.3 L266.2,214.4 L266.5,214.9 L266.8,215.5 L267.0,215.9 L267.2,216.3 L267.5,215.3 L267.7,217.0 L267.9,218.1 L268.2,216.3 L268.4,217.1 L268.7,217.5 L268.9,217.5 L269.1,218.8 L269.4,218.9 L269.6,219.2 L269.8,222.3 L270.1,222.3 L270.3,221.1 L270.6,220.2 L270.8,221.5 L271.1,221.7 L271.3,222.6 L271.6,222.5 L271.8,225.3 L272.0,225.0 L272.3,224.2 L272.5,225.7 L272.8,226.7 L273.0,226.7 L273.2,226.7 L273.5,224.8 L273.7,224.7 L274.0,223.6 L274.2,223.8 L274.4,223.9 L274.7,223.1 L274.9,223.4 L275.2,221.3 L275.4,222.8 L275.6,224.1 L275.9,221.9 L276.1,221.9 L276.4,219.4 L276.6,220.6 L276.8,223.3 L277.1,223.2 L277.3,228.2 L277.6,228.9 L277.8,227.1 L278.0,228.4 L278.3,232.9 L278.5,234.6 L278.8,237.5 L279.0,236.7 L279.2,239.0 L279.5,242.9 L279.8,242.8 L280.0,245.9 L280.2,246.7 L280.5,248.8 L280.8,250.0 L281.0,254.3 L281.2,251.1 L281.5,253.3 L281.8,255.0 L282.0,253.8 L282.2,254.3 L282.5,257.7 L282.7,257.7 L282.9,252.9 L283.2,254.8 L283.4,255.2 L283.6,254.6 L283.9,252.5 L284.1,251.1 L284.3,249.6 L284.6,250.1 L284.8,248.9 L285.1,246.7 L285.3,245.8 L285.6,245.9 L285.8,243.4 L286.1,244.4 L286.3,241.6 L286.5,242.6 L286.8,242.6 L287.0,245.9 L287.2,244.0 L287.5,243.4 L287.7,242.6 L288.0,246.6 L288.2,246.5 L288.4,245.9 L288.7,246.3 L288.9,245.9 L289.1,250.3 L289.4,250.7 L289.6,247.7 L289.9,250.1 L290.1,251.8 L290.3,255.1 L290.6,259.1 L290.8,261.5 L291.0,264.8 L291.2,262.2 L291.5,258.0 L291.8,256.2 L292.0,253.4 L292.2,250.1 L292.5,245.7 L292.8,241.8 L293.0,240.3 L293.2,239.8 L293.5,235.2 L293.7,234.3 L294.0,236.4 L294.2,236.0 L294.4,232.3 L294.7,233.2 L294.9,229.4 L295.2,227.6 L295.4,228.2 L295.6,226.3 L295.9,224.7 L296.1,221.1 L296.4,219.5 L296.6,217.9 L296.9,218.4 L297.1,215.5 L297.4,217.8 L297.6,216.3 L297.9,214.9 L298.1,215.0 L298.4,217.0 L298.6,220.0 L298.9,218.4 L299.1,221.3 L299.3,221.3 L299.6,221.3 L299.8,221.1 L300.0,220.0 L300.3,222.0 L300.5,221.8 L300.8,223.0 L301.0,220.5 L301.2,222.7 L301.5,224.7 L301.7,225.0 L302.0,224.7 L302.2,226.3 L302.5,225.0 L302.7,222.3 L303.0,226.0 L303.2,219.6 L303.5,218.8 L303.7,219.7 L304.0,218.8 L304.2,216.2 L304.5,216.9 L304.8,218.1 L305.0,215.9 L305.2,218.4 L305.5,217.5 L305.8,217.7 L306.0,213.6 L306.2,213.6 L306.5,214.3 L306.7,216.6 L307.0,217.8 L307.2,216.5 L307.4,216.3 L307.7,215.0 L307.9,217.3 L308.2,216.1 L308.4,216.8 L308.6,215.7 L308.9,215.7 L309.1,219.0 L309.4,218.8 L309.6,219.2 L309.9,216.0 L310.1,218.3 L310.4,220.6 L310.6,217.9 L310.9,214.2 L311.1,214.5 L311.4,213.7 L311.6,213.4 L311.8,211.0 L312.1,209.5 L312.3,209.0 L312.6,210.4 L312.8,209.6 L313.0,209.4 L313.3,206.7 L313.5,207.0 L313.8,205.1 L314.0,204.5 L314.2,205.1 L314.5,203.2 L314.7,201.3 L315.0,198.8 L315.2,199.0 L315.5,200.3 L315.7,199.5 L316.0,200.1 L316.2,198.3 L316.5,198.3 L316.7,201.0 L317.0,202.6 L317.2,202.7 L317.5,200.9 L317.8,201.8 L318.0,200.9 L318.2,202.7 L318.5,207.2 L318.8,206.7 L319.0,206.4 L319.2,208.1 L319.5,207.6 L319.8,208.7 L320.0,209.3 L320.2,210.2 L320.5,208.1 L320.8,210.6 L321.0,211.6 L321.2,209.9 L321.5,209.9 L321.7,209.9 L321.9,213.4 L322.2,213.6 L322.4,214.8 L322.7,215.1 L322.9,215.4 L323.1,213.9 L323.4,212.4 L323.6,213.0 L323.8,213.2 L324.1,212.6 L324.3,211.4 L324.6,210.2 L324.8,211.5 L325.1,210.8 L325.3,211.0 L325.6,206.3 L325.8,207.5 L326.0,206.6 L326.3,210.0 L326.5,211.5 L326.7,214.7 L327.0,216.5 L327.2,218.9 L327.4,221.3 L327.7,224.0 L327.9,224.5 L328.2,223.2 L328.4,227.4 L328.7,231.8 L328.9,232.3 L329.2,234.6 L329.4,235.4 L329.6,235.4 L329.9,239.8 L330.1,242.9 L330.4,242.2 L330.6,242.9 L330.9,244.9 L331.1,243.6 L331.4,243.7 L331.6,247.8 L331.9,249.7 L332.1,248.8 L332.4,248.9 L332.6,250.8 L332.8,250.0 L333.1,250.8 L333.3,252.2 L333.5,249.9 L333.8,254.5 L334.0,256.5 L334.2,258.4 L334.5,256.1 L334.8,255.2 L335.0,256.2 L335.2,257.0 L335.5,260.7 L335.7,259.5 L335.9,259.4 L336.2,260.4 L336.4,260.9 L336.6,261.1 L336.9,256.3 L337.1,256.1 L337.4,253.5 L337.6,249.9 L337.9,248.8 L338.1,245.1 L338.4,245.8 L338.6,244.0 L338.9,244.7 L339.1,245.4 L339.4,241.9 L339.6,239.3 L339.8,239.5 L340.1,237.7 L340.3,238.2 L340.5,237.6 L340.8,235.6 L341.0,234.1 L341.2,235.5 L341.5,232.0 L341.7,235.1 L342.0,232.4 L342.2,231.8 L342.4,230.6 L342.7,232.7 L342.9,232.9 L343.2,233.1 L343.4,232.7 L343.6,230.9 L343.9,232.4 L344.1,230.9 L344.4,229.5 L344.6,228.7 L344.8,228.9 L345.1,228.5 L345.3,227.4 L345.6,224.2 L345.8,229.0 L346.0,225.0 L346.3,223.9 L346.5,223.9 L346.8,226.4 L347.0,226.1 L347.2,224.7 L347.5,224.6 L347.7,223.7 L347.9,220.9 L348.2,221.1 L348.4,221.8 L348.6,223.0 L348.9,220.3 L349.1,219.3 L349.4,219.3 L349.6,219.6 L349.9,220.2 L350.1,221.5 L350.4,222.8 L350.6,223.2 L350.8,222.4 L351.1,225.6 L351.3,227.2 L351.6,229.1 L351.8,232.0 L352.1,229.8 L352.3,227.8 L352.6,229.7 L352.8,235.0 L353.0,234.6 L353.3,235.9 L353.5,236.5 L353.8,238.3 L354.0,241.8 L354.2,240.1 L354.5,239.4 L354.7,238.9 L355.0,240.2 L355.2,241.1 L355.4,240.5 L355.7,242.9 L355.9,244.5 L356.2,244.5 L356.4,243.6 L356.6,243.2 L356.9,241.1 L357.1,244.0 L357.4,243.6 L357.6,244.4 L357.9,245.8 L358.1,244.4 L358.4,244.1 L358.6,246.5 L358.9,247.3 L359.1,246.3 L359.4,247.3 L359.6,246.2 L359.8,246.4 L360.1,246.7 L360.3,244.1 L360.6,246.5 L360.8,247.3 L361.0,246.4 L361.3,245.5 L361.5,244.0 L361.7,245.6 L362.0,244.7 L362.2,241.6 L362.4,243.5 L362.7,240.2 L362.9,240.2 L363.2,240.2 L363.4,241.3 L363.6,242.3 L363.9,241.1 L364.1,239.5 L364.4,238.6 L364.6,238.0 L364.8,239.5 L365.1,241.4 L365.3,238.2 L365.6,238.6 L365.8,237.0 L366.1,238.4 L366.3,237.6 L366.6,236.0 L366.8,238.7 L367.1,237.0 L367.3,238.5 L367.6,238.2 L367.8,238.2 L368.1,234.9 L368.3,234.4 L368.6,234.2 L368.8,233.4 L369.1,235.1 L369.3,232.5 L369.6,233.8 L369.8,234.9 L370.1,229.3 L370.3,228.3 L370.6,228.0 L370.8,228.3 L371.1,229.4 L371.3,228.9 L371.6,228.7 L371.8,227.9 L372.1,227.7 L372.3,228.1 L372.6,228.6 L372.8,226.2 L373.1,226.0 L373.3,224.5 L373.5,224.7 L373.8,222.5 L374.0,225.2 L374.3,225.6 L374.5,224.4 L374.8,223.3 L375.0,222.9 L375.2,222.9 L375.5,222.3 L375.7,225.8 L376.0,229.8 L376.2,226.3 L376.4,224.3 L376.7,226.8 L376.9,228.1 L377.2,225.6 L377.4,224.9 L377.7,227.8 L377.9,227.3 L378.1,229.5 L378.4,229.2 L378.6,229.9 L378.9,230.3 L379.1,229.8 L379.4,230.5 L379.6,230.7 L379.8,233.7 L380.1,232.9 L380.3,233.0 L380.6,232.8 L380.8,233.1 L381.0,231.8 L381.3,231.7 L381.5,234.6 L381.8,234.6 L382.0,232.5 L382.2,233.3 L382.5,231.7 L382.7,229.7 L382.9,228.8 L383.2,226.5 L383.4,227.0 L383.6,226.0 L383.9,223.3 L384.1,223.3 L384.4,226.0 L384.6,224.8 L384.8,226.7 L385.1,227.9 L385.3,227.9 L385.5,230.2 L385.8,232.4 L386.0,232.4 L386.2,234.4 L386.5,237.2 L386.8,236.6 L387.0,238.2 L387.2,238.4 L387.5,240.8 L387.8,239.6 L388.0,240.5 L388.2,237.9 L388.5,240.4 L388.8,237.6 L389.0,235.0 L389.2,233.6 L389.5,234.9 L389.8,233.2 L390.0,234.2 L390.2,234.3 L390.5,233.7 L390.7,229.9 L391.0,229.8 L391.2,228.2 L391.4,225.3 L391.7,227.6 L391.9,230.3 L392.2,227.4 L392.4,227.0 L392.6,227.5 L392.9,226.1 L393.1,225.6 L393.4,226.4 L393.6,227.1 L393.8,224.9 L394.1,225.8 L394.3,225.8 L394.6,226.9 L394.8,225.2 L395.0,224.9 L395.3,224.6 L395.5,224.7 L395.8,226.5 L396.0,225.0 L396.2,227.1 L396.5,226.4 L396.7,227.0 L397.0,227.1 L397.2,226.6 L397.4,225.7 L397.7,223.5 L397.9,223.0 L398.1,224.1 L398.4,223.2 L398.6,222.7 L398.8,222.5 L399.1,219.7 L399.3,217.6 L399.5,220.3 L399.8,217.8 L400.0,216.0 L400.2,217.3 L400.5,214.8 L400.8,212.5 L401.0,214.4 L401.2,211.1 L401.5,209.9 L401.8,211.4 L402.0,209.6 L402.2,211.1 L402.5,209.9 L402.7,211.1 L402.9,209.5 L403.2,207.2 L403.4,204.6 L403.7,203.8 L403.9,203.0 L404.1,203.1 L404.4,204.5 L404.6,202.3 L404.9,202.3 L405.1,202.3 L405.3,204.3 L405.6,204.0 L405.8,204.0 L406.1,204.0 L406.3,205.6 L406.6,205.5 L406.8,205.7 L407.1,205.0 L407.3,204.5 L407.6,204.5 L407.8,203.4 L408.0,204.3 L408.3,201.0 L408.5,199.9 L408.7,202.1 L409.0,201.6 L409.2,201.5 L409.4,202.1 L409.7,202.1 L409.9,202.1 L410.2,200.2 L410.4,201.0 L410.7,197.5 L410.9,198.1 L411.2,200.3 L411.4,199.9 L411.6,200.2 L411.9,200.3 L412.1,203.3 L412.4,200.2 L412.6,203.3 L412.8,205.1 L413.1,205.3 L413.3,206.8 L413.6,205.1 L413.8,208.5 L414.0,210.6 L414.3,209.4 L414.5,210.5 L414.8,210.7 L415.0,210.5 L415.2,210.3 L415.5,210.9 L415.8,209.6 L416.0,209.2 L416.2,214.4 L416.5,214.1 L416.8,214.9 L417.0,215.1 L417.2,216.0 L417.5,214.2 L417.7,213.9 L418.0,216.6 L418.2,218.9 L418.4,216.4 L418.7,216.7 L418.9,216.6 L419.2,219.0 L419.4,219.7 L419.7,220.2 L419.9,219.8 L420.2,221.1 L420.4,221.6 L420.7,220.7 L420.9,222.5 L421.2,221.9 L421.4,224.5 L421.7,225.2 L421.9,224.2 L422.2,225.3 L422.4,225.6 L422.7,225.1 L422.9,224.4 L423.2,223.9 L423.4,223.9 L423.6,226.2 L423.9,229.3 L424.1,227.7 L424.4,228.5 L424.6,229.3 L424.9,230.1 L425.1,230.1 L425.3,230.7 L425.6,230.6 L425.8,228.1 L426.1,228.4 L426.3,223.9 L426.5,224.8 L426.8,225.6 L427.0,226.4 L427.3,225.3 L427.5,225.5 L427.8,226.1 L428.0,224.0 L428.2,222.7 L428.5,223.2 L428.8,223.6 L429.0,222.9 L429.2,223.3 L429.5,220.4 L429.8,221.3 L430.0,221.3 L430.2,222.9 L430.5,223.5 L430.7,223.0 L430.9,224.2 L431.2,224.2 L431.4,222.4 L431.7,223.9 L431.9,225.6 L432.1,225.9 L432.4,225.5 L432.6,226.7 L432.9,227.5 L433.1,229.1 L433.3,230.0 L433.6,231.0 L433.8,232.2 L434.0,231.3 L434.3,230.6 L434.5,227.4 L434.8,222.0 L435.0,223.5 L435.2,225.7 L435.5,224.4 L435.7,223.1 L436.0,221.6 L436.2,222.4 L436.4,220.9 L436.7,220.5 L436.9,221.4 L437.2,220.5 L437.4,222.7 L437.6,218.8 L437.9,218.3 L438.1,216.9 L438.4,214.2 L438.6,213.4 L438.9,213.1 L439.1,212.3 L439.4,214.7 L439.6,215.0 L439.9,215.6 L440.1,211.7 L440.4,209.3 L440.6,208.3 L440.8,208.3 L441.1,209.2 L441.3,208.9 L441.6,207.6 L441.8,207.3 L442.0,207.9 L442.3,212.7 L442.5,213.4 L442.8,214.0 L443.0,213.7 L443.2,214.3 L443.5,215.6 L443.8,213.7 L444.0,214.4 L444.2,215.4 L444.5,218.0 L444.7,216.5 L445.0,217.9 L445.2,216.4 L445.5,218.7 L445.7,217.8 L445.9,216.4 L446.2,217.6 L446.4,216.8 L446.7,216.0 L446.9,213.8 L447.1,214.6 L447.4,215.1 L447.6,214.3 L447.9,212.4 L448.1,210.2 L448.3,212.7 L448.6,212.3 L448.8,211.4 L449.1,209.7 L449.3,211.1 L449.5,212.2 L449.8,211.9 L450.0,214.1 L450.2,211.4 L450.5,213.4 L450.7,211.4 L451.0,213.9 L451.2,213.1 L451.5,214.9 L451.7,214.0 L452.0,215.0 L452.2,216.7 L452.5,214.4 L452.7,215.2 L453.0,215.1 L453.2,215.7 L453.5,214.1 L453.8,213.3 L454.0,213.0 L454.2,215.0 L454.5,212.0 L454.8,212.1 L455.0,211.7 L455.2,210.6 L455.5,209.2 L455.8,209.2 L456.0,209.6 L456.2,206.5 L456.5,207.9 L456.8,206.6 L457.0,207.1 L457.2,208.6 L457.5,206.5 L457.8,206.0 L458.0,205.2 L458.2,206.8 L458.5,204.7 L458.8,202.9 L459.0,202.9 L459.2,202.8 L459.5,203.4 L459.7,205.1 L459.9,203.0 L460.2,204.1 L460.4,201.7 L460.7,203.6 L460.9,202.6 L461.1,202.3 L461.4,203.2 L461.6,206.7 L461.9,204.1 L462.1,202.5 L462.3,202.8 L462.6,203.6 L462.8,205.4 L463.0,206.4 L463.3,206.6 L463.5,207.5 L463.8,210.0 L464.0,208.7 L464.2,207.1 L464.5,206.2 L464.7,209.0 L464.9,208.1 L465.2,208.2 L465.4,209.4 L465.7,210.0 L465.9,207.9 L466.2,208.0 L466.4,208.1 L466.7,208.1 L466.9,210.1 L467.1,208.5 L467.4,207.3 L467.6,208.5 L467.8,207.6 L468.1,208.2 L468.3,212.1 L468.5,213.2 L468.8,218.2 L469.0,218.9 L469.2,219.8 L469.5,219.8 L469.7,222.5 L470.0,222.7 L470.2,220.8 L470.4,223.5 L470.7,219.7 L470.9,220.4 L471.2,222.2 L471.4,222.8 L471.6,221.9 L471.9,224.8 L472.1,225.3 L472.4,223.4 L472.6,224.3 L472.9,223.2 L473.1,223.4 L473.4,224.7 L473.6,224.9 L473.9,224.8 L474.1,225.1 L474.4,223.2 L474.6,226.6 L474.8,224.9 L475.1,227.0 L475.3,226.0 L475.6,226.0 L475.8,228.7 L476.1,228.6 L476.3,227.2 L476.6,227.0 L476.8,229.0 L477.1,230.5 L477.3,230.3 L477.5,231.0 L477.8,230.3 L478.0,231.2 L478.2,233.5 L478.5,235.7 L478.7,236.6 L479.0,240.0 L479.2,239.6 L479.5,240.6 L479.7,244.1 L480.0,246.1 L480.2,246.6 L480.5,249.2 L480.8,247.2 L481.0,252.1 L481.2,255.3 L481.5,255.3 L481.8,254.8 L482.0,255.3 L482.2,256.6 L482.5,258.9 L482.8,258.3 L483.0,259.0 L483.2,260.4 L483.5,258.0 L483.8,260.1 L484.0,262.8 L484.2,260.9 L484.5,262.5 L484.8,265.3 L485.0,266.1 L485.2,266.5 L485.5,268.8 L485.8,268.4 L486.0,267.1 L486.2,267.0 L486.5,268.0 L486.7,269.6 L486.9,269.8 L487.2,271.0 L487.4,274.5 L487.7,270.6 L487.9,273.8 L488.1,276.7 L488.4,278.6 L488.6,279.0 L488.8,279.9 L489.1,281.9 L489.3,283.4 L489.6,283.2 L489.8,285.7 L490.0,286.7 L490.2,289.2 L490.5,291.1 L490.7,293.1 L490.9,296.3 L491.2,298.5 L491.4,299.2 L491.7,302.9 L491.9,302.4 L492.2,306.2 L492.4,307.6 L492.6,311.3 L492.9,308.9 L493.1,310.4 L493.4,309.4 L493.6,310.3 L493.9,311.2 L494.1,312.8 L494.4,315.1 L494.6,314.6 L494.9,317.1 L495.1,318.0 L495.4,316.5 L495.6,317.3 L495.8,317.2 L496.1,321.4 L496.3,320.4 L496.5,322.8 L496.8,323.9 L497.0,323.5 L497.2,323.6 L497.5,325.0 L497.8,324.2 L498.0,323.6 L498.2,324.9 L498.5,327.3 L498.7,326.8 L499.0,328.6 L499.2,323.5 L499.4,324.5 L499.7,321.7 L499.9,323.8 L500.2,323.1 L500.4,321.6 L500.6,322.4 L500.9,320.4 L501.1,318.5 L501.4,316.2 L501.6,315.6 L501.8,316.3 L502.1,316.6 L502.3,316.3 L502.5,316.4 L502.8,316.0 L503.0,316.4 L503.3,316.8 L503.5,317.2 L503.7,317.9 L504.0,318.0 L504.2,319.7 L504.5,320.4 L504.7,321.4 L505.0,320.8 L505.2,322.3 L505.5,324.2 L505.7,325.7 L506.0,324.7 L506.2,323.7 L506.5,323.8 L506.7,324.9 L507.0,326.6 L507.2,325.8 L507.5,322.9 L507.8,324.8 L508.0,321.7 L508.2,321.5 L508.5,321.2 L508.8,322.7 L509.0,322.9 L509.2,321.4 L509.5,319.8 L509.8,318.2 L510.0,317.3 L510.2,316.5 L510.5,319.4 L510.8,315.1 L511.0,314.2 L511.2,312.5 L511.5,312.5 L511.8,310.7 L512.0,311.3 L512.2,308.3 L512.5,311.4 L512.8,309.2 L513.0,306.4 L513.2,306.7 L513.5,305.4 L513.7,303.1 L514.0,304.5 L514.2,303.1 L514.4,304.2 L514.7,302.5 L514.9,302.7 L515.1,302.5 L515.4,302.5 L515.6,302.1 L515.8,300.8 L516.1,300.1 L516.3,300.9 L516.6,301.2 L516.8,300.0 L517.0,301.1 L517.3,301.1 L517.5,299.7 L517.8,301.1 L518.0,300.1 L518.2,299.9 L518.5,298.5 L518.7,299.9 L519.0,298.7 L519.2,298.5 L519.5,297.4 L519.7,300.1 L520.0,300.1 L520.2,297.6 L520.5,297.3 L520.7,298.2 L521.0,297.8 L521.2,297.5 L521.5,296.9 L521.8,297.6 L522.0,296.9 L522.2,298.7 L522.5,299.5 L522.8,299.5 L523.0,299.5 L523.2,299.5 L523.5,298.3 L523.8,298.7 L524.0,298.0 L524.2,299.9 L524.5,302.1 L524.8,303.4 L525.0,302.9 L525.2,302.5 L525.5,303.8 L525.7,308.3 L525.9,308.2 L526.2,308.2 L526.4,307.6 L526.6,308.3 L526.9,310.5 L527.1,309.9 L527.3,314.0 L527.6,313.0 L527.8,312.9 L528.1,314.0 L528.3,315.7 L528.5,317.8 L528.8,317.7 L529.0,315.9 L529.3,318.4 L529.5,321.2 L529.8,324.3 L530.0,322.6 L530.3,324.8 L530.6,326.2 L530.8,327.2 L531.1,326.3 L531.3,325.9 L531.6,326.1 L531.8,330.0 L532.1,330.9 L532.3,332.6 L532.6,333.4 L532.8,334.0 L533.1,334.3 L533.3,337.7 L533.6,334.6 L533.8,334.9 L534.0,335.6 L534.3,336.4 L534.5,337.9 L534.8,338.0 L535.0,340.1 L535.2,336.3 L535.5,333.7 L535.8,331.1 L536.0,331.1 L536.2,329.8 L536.5,329.5 L536.8,327.1 L537.0,325.9 L537.2,326.1 L537.5,324.8 L537.8,324.5 L538.0,325.0 L538.2,326.5 L538.5,324.9 L538.8,324.7 L539.0,324.5 L539.2,324.8 L539.5,323.7 L539.7,324.1 L540.0,322.5 L540.2,322.4 L540.5,321.9 L540.7,321.9 L540.9,324.1 L541.2,324.1 L541.4,323.7 L541.7,323.5 L541.9,323.2 L542.1,322.1 L542.4,321.9 L542.6,322.5 L542.9,323.5 L543.1,322.4 L543.3,323.3 L543.6,322.9 L543.8,322.3 L544.1,323.4 L544.3,324.1 L544.5,325.5 L544.8,327.5 L545.0,327.9 L545.3,326.9 L545.5,325.9 L545.7,324.0 L546.0,325.3 L546.2,328.9 L546.5,329.4 L546.7,328.8 L546.9,328.9 L547.2,329.4 L547.4,330.5 L547.7,330.6 L547.9,331.6 L548.1,330.5 L548.4,331.6 L548.6,332.0 L548.8,333.8 L549.1,332.2 L549.3,335.6 L549.5,335.2 L549.8,334.6 L550.0,335.6 L550.3,336.5 L550.5,336.9 L550.8,337.8 L551.0,337.5 L551.2,335.9 L551.5,338.8 L551.8,339.4 L552.0,342.8 L552.2,342.2 L552.5,339.1 L552.8,342.0 L553.0,341.7 L553.2,342.8 L553.5,346.0 L553.7,346.7 L554.0,343.6 L554.2,344.0 L554.4,341.9 L554.7,345.0 L554.9,346.3 L555.2,345.3 L555.4,346.6 L555.6,348.0 L555.9,349.2 L556.1,347.7 L556.3,347.0 L556.6,346.3 L556.8,346.4 L557.1,349.0 L557.3,349.9 L557.5,351.7 L557.8,352.1 L558.0,351.5 L558.2,349.4 L558.5,353.9 L558.7,353.6 L559.0,353.5 L559.2,353.2 L559.4,352.9 L559.7,355.5 L559.9,354.7 L560.1,357.5 L560.4,359.0 L560.6,359.0 L560.8,357.9 L561.1,360.0 L561.3,363.5 L561.5,361.7 L561.8,361.2 L562.0,363.9 L562.2,364.1 L562.5,363.1 L562.8,365.4 L563.0,364.3 L563.2,364.8 L563.5,364.2 L563.8,363.0 L564.0,363.5 L564.2,361.8 L564.5,361.5 L564.8,361.5 L565.0,362.9 L565.2,363.3 L565.5,363.7 L565.8,363.7 L566.0,363.2 L566.2,359.8 L566.5,357.4 L566.7,357.0 L567.0,354.4 L567.2,355.4 L567.4,353.3 L567.7,353.1 L567.9,351.5 L568.1,351.2 L568.4,352.4 L568.6,351.3 L568.9,349.8 L569.1,350.5 L569.3,351.7 L569.6,350.2 L569.8,348.2 L570.1,347.9 L570.3,347.9 L570.5,348.8 L570.8,348.3 L571.0,348.8 L571.3,350.0 L571.5,349.0 L571.7,348.7 L572.0,346.8 L572.2,344.9 L572.5,346.2 L572.7,345.9 L572.9,345.9 L573.2,343.6 L573.4,343.3 L573.7,346.6 L573.9,342.8 L574.1,342.4 L574.4,343.0 L574.6,341.2 L574.9,340.6 L575.1,336.7 L575.4,338.5 L575.6,337.1 L575.9,339.0 L576.1,337.0 L576.4,335.6 L576.6,335.2 L576.8,334.2 L577.1,332.8 L577.3,335.0 L577.5,334.9 L577.8,332.8 L578.0,332.4 L578.3,331.4 L578.5,330.0 L578.7,329.3 L579.0,328.5 L579.2,328.4 L579.5,328.3 L579.7,327.5 L579.9,325.4 L580.2,324.9 L580.4,324.7 L580.6,323.2 L580.9,323.1 L581.1,324.2 L581.3,323.5 L581.6,322.2 L581.8,321.8 L582.1,320.9 L582.3,321.5 L582.5,320.8 L582.8,318.2 L583.0,318.1 L583.3,319.1 L583.5,319.8 L583.8,319.0 L584.0,318.1 L584.3,318.7 L584.5,318.1 L584.8,318.1 L585.0,318.7 L585.2,318.1 L585.5,319.5 L585.7,318.7 L586.0,319.1 L586.2,319.6 L586.5,321.8 L586.7,324.1 L587.0,324.4 L587.2,322.1 L587.5,322.4 L587.7,323.8 L588.0,324.0 L588.2,322.8 L588.5,323.6 L588.8,323.4 L589.0,325.7 L589.2,327.1 L589.5,326.0 L589.8,330.3 L590.0,328.3 L590.2,330.4 L590.5,329.5 L590.8,329.1 L591.0,330.4 L591.2,330.1 L591.5,330.0 L591.7,332.8 L592.0,332.3 L592.2,333.2 L592.5,330.9 L592.7,335.3 L592.9,336.0 L593.2,335.5 L593.4,335.9 L593.7,335.1 L593.9,335.3 L594.1,333.2 L594.4,333.9 L594.6,335.7 L594.8,335.7 L595.1,335.4 L595.3,334.3 L595.6,331.5 L595.8,330.4 L596.0,330.8 L596.3,330.5 L596.5,331.6 L596.8,329.7 L597.0,327.6 L597.3,328.5 L597.5,327.3 L597.8,326.3 L598.0,326.3 L598.3,326.3 L598.5,326.3 L598.8,326.3 L599.0,328.2 L599.2,328.9 L599.5,328.9 L599.7,328.3 L599.9,328.9 L600.2,328.6 L600.4,328.8 L600.7,327.1 L600.9,327.3 L601.1,326.5 L601.4,328.7 L601.6,327.4 L601.8,327.7 L602.1,326.4 L602.3,326.6 L602.6,324.2 L602.8,324.2 L603.0,326.2 L603.3,326.2 L603.5,322.6 L603.8,324.3 L604.0,323.0 L604.2,323.1 L604.5,323.4 L604.8,321.7 L605.0,321.2 L605.2,320.8 L605.5,321.5 L605.8,322.2 L606.0,322.6 L606.2,320.9 L606.5,320.9 L606.7,320.0 L607.0,322.6 L607.2,321.6 L607.5,323.0 L607.7,322.3 L607.9,322.6 L608.2,321.4 L608.4,323.1 L608.7,325.1 L608.9,324.7 L609.1,324.9 L609.4,325.2 L609.6,326.6 L609.9,326.2 L610.1,326.4 L610.3,327.2 L610.6,329.4 L610.8,329.7 L611.1,327.8 L611.3,328.1 L611.5,327.7 L611.8,328.4 L612.0,329.0 L612.2,327.0 L612.5,329.6 L612.7,326.4 L613.0,326.5 L613.2,325.4 L613.5,325.1 L613.7,324.5 L614.0,323.7 L614.2,319.3 L614.5,317.4 L614.7,317.6 L615.0,318.5 L615.2,319.1 L615.5,318.1 L615.8,319.1 L616.0,318.7 L616.2,319.6 L616.5,314.8 L616.8,313.8 L617.0,313.2 L617.2,313.1 L617.5,314.8 L617.8,313.6 L618.0,312.5 L618.2,312.3 L618.5,314.2 L618.8,312.8 L619.0,314.0 L619.2,314.0 L619.5,312.1 L619.8,310.9 L620.0,310.9 L620.2,310.9 L620.5,312.9 L620.7,311.4 L621.0,310.9 L621.2,311.7 L621.4,312.0 L621.7,310.9 L621.9,312.9 L622.2,313.1 L622.4,312.5 L622.6,311.7 L622.9,310.9 L623.1,310.9 L623.4,310.9 L623.6,312.3 L623.8,310.9 L624.1,311.6 L624.3,313.4 L624.6,312.5 L624.8,311.3 L625.0,312.1 L625.3,311.4 L625.5,310.9 L625.8,312.4 L626.0,311.8 L626.2,313.4 L626.5,313.0 L626.7,313.4 L627.0,312.2 L627.2,310.2 L627.4,311.8 L627.7,310.1 L627.9,311.9 L628.2,312.0 L628.4,310.1 L628.6,310.6 L628.9,312.4 L629.1,310.4 L629.4,311.1 L629.6,310.9 L629.8,310.6 L630.1,310.8 L630.3,314.3 L630.5,315.5 L630.8,315.0 L631.0,315.0 L631.3,315.6 L631.5,316.2 L631.8,317.0 L632.0,314.9 L632.2,318.1 L632.5,317.0 L632.8,314.9 L633.0,318.6 L633.2,318.5 L633.5,320.1 L633.7,319.7 L634.0,318.6 L634.2,319.5 L634.5,318.5 L634.7,317.8 L634.9,316.3 L635.2,316.7 L635.4,316.2 L635.6,316.0 L635.9,317.6 L636.1,318.1 L636.4,317.1 L636.6,313.4 L636.9,315.2 L637.1,315.1 L637.4,315.0 L637.6,313.1 L637.9,314.2 L638.1,314.7 L638.3,317.7 L638.6,315.8 L638.8,316.6 L639.1,320.1 L639.3,320.1 L639.5,318.6 L639.8,319.7 L640.0,323.0 L640.2,321.6 L640.5,323.4 L640.7,323.7 L641.0,322.6 L641.2,323.9 L641.4,324.7 L641.7,325.7 L641.9,322.9 L642.1,324.1 L642.4,321.4 L642.6,321.1 L642.8,320.5 L643.1,317.8 L643.3,318.8 L643.5,317.8 L643.8,316.3 L644.0,316.3 L644.2,316.4 L644.5,316.6 L644.8,316.8 L645.0,317.6 L645.2,316.3 L645.5,320.6 L645.8,321.8 L646.0,322.9 L646.2,323.2 L646.5,324.0 L646.7,324.4 L647.0,323.8 L647.2,322.9 L647.5,325.2 L647.7,328.4 L647.9,328.8 L648.2,331.4 L648.4,328.6 L648.7,329.5 L648.9,330.1 L649.1,331.3 L649.4,331.7 L649.6,330.7 L649.8,331.4 L650.1,329.9 L650.3,328.1 L650.6,328.7 L650.8,328.2 L651.0,329.6 L651.3,329.6 L651.5,330.1 L651.8,329.3 L652.0,324.6 L652.3,326.5 L652.5,326.2 L652.8,324.6 L653.0,324.3 L653.3,325.6 L653.5,326.9 L653.8,323.6 L654.0,324.6 L654.2,323.9 L654.5,322.6 L654.7,321.9 L654.9,322.1 L655.2,322.4 L655.4,322.7 L655.7,320.8 L655.9,318.3 L656.1,321.1 L656.4,321.4 L656.6,319.5 L656.8,319.7 L657.1,321.0 L657.3,318.3 L657.6,320.3 L657.8,323.1 L658.0,323.1 L658.3,321.1 L658.5,323.1 L658.8,322.6 L659.0,322.4 L659.2,322.1 L659.5,322.7 L659.8,320.9 L660.0,320.9 L660.2,320.9 L660.5,323.3 L660.8,323.6 L661.0,325.5 L661.2,322.9 L661.5,323.8 L661.7,325.0 L662.0,323.2 L662.2,320.2 L662.5,320.0 L662.7,320.4 L662.9,321.0 L663.2,323.0 L663.4,323.2 L663.7,322.7 L663.9,321.0 L664.1,319.8 L664.4,318.6 L664.6,316.1 L664.9,319.0 L665.1,320.2 L665.3,318.4 L665.6,315.9 L665.8,316.8 L666.1,316.4 L666.3,315.5 L666.5,314.0 L666.8,314.4 L667.0,313.4 L667.2,314.9 L667.5,315.2 L667.7,314.7 L668.0,313.2 L668.2,313.9 L668.5,314.1 L668.7,314.1 L669.0,314.1 L669.2,314.1 L669.5,313.1 L669.7,310.6 L670.0,309.9 L670.2,308.6 L670.5,309.7 L670.8,310.9 L671.0,310.1 L671.2,309.2 L671.5,310.9 L671.8,308.2 L672.0,306.3 L672.2,304.5 L672.5,304.6 L672.8,306.2 L673.0,307.0 L673.2,305.4 L673.5,306.0 L673.8,304.8 L674.0,303.7 L674.2,303.3 L674.5,304.4 L674.7,305.1 L675.0,302.6 L675.2,301.9 L675.4,302.7 L675.7,305.1 L675.9,302.8 L676.2,301.9 L676.4,302.9 L676.6,303.3 L676.9,302.2 L677.1,302.3 L677.4,303.1 L677.6,300.5 L677.8,300.9 L678.1,302.4 L678.3,303.2 L678.6,303.3 L678.8,302.0 L679.0,299.8 L679.3,301.6 L679.5,301.8 L679.8,299.1 L680.0,300.4 L680.2,300.2 L680.5,298.1 L680.7,295.9 L681.0,294.9 L681.2,293.8 L681.5,292.7 L681.7,293.2 L682.0,291.5 L682.2,292.9 L682.5,294.5 L682.7,291.8 L682.9,292.5 L683.2,291.0 L683.4,291.6 L683.7,290.5 L683.9,292.2 L684.1,289.4 L684.4,289.9 L684.6,288.5 L684.8,288.6 L685.1,288.4 L685.3,289.9 L685.5,286.3 L685.8,286.3 L686.0,288.5 L686.3,288.2 L686.5,288.6 L686.7,287.8 L687.0,288.7 L687.2,290.2 L687.5,293.1 L687.7,291.7 L687.9,290.8 L688.2,292.2 L688.4,292.1 L688.6,291.9 L688.9,293.8 L689.1,290.9 L689.4,291.2 L689.6,295.8 L689.9,295.1 L690.1,295.6 L690.4,296.7 L690.6,297.7 L690.9,297.7 L691.1,295.3 L691.3,294.6 L691.6,296.9 L691.8,295.9 L692.1,294.9 L692.3,295.6 L692.5,296.4 L692.8,296.4 L693.0,294.6 L693.3,292.9 L693.5,292.1 L693.8,293.3 L694.0,292.5 L694.3,293.3 L694.5,289.5 L694.8,291.6 L695.0,290.1 L695.2,289.8 L695.5,290.6 L695.7,290.0 L696.0,288.1 L696.2,290.4 L696.5,289.8 L696.7,287.3 L697.0,286.9 L697.2,285.5 L697.5,283.9 L697.8,284.3 L698.0,285.6 L698.2,285.6 L698.5,284.2 L698.8,283.6 L699.0,283.6 L699.2,284.9 L699.5,284.9 L699.8,282.9 L700.0,285.2 L700.2,284.8 L700.5,282.9 L700.8,281.9 L701.0,282.8 L701.2,282.5 L701.5,283.4 L701.7,282.9 L702.0,280.6 L702.2,279.2 L702.4,278.2 L702.7,279.2 L702.9,279.3 L703.2,279.3 L703.4,278.7 L703.6,277.3 L703.9,277.0 L704.1,275.6 L704.4,277.0 L704.6,274.5 L704.8,274.6 L705.1,274.3 L705.3,274.4 L705.6,274.9 L705.8,276.1 L706.0,276.3 L706.3,274.8 L706.5,275.7 L706.8,278.4 L707.0,279.6 L707.2,279.8 L707.5,281.4 L707.7,281.4 L708.0,282.0 L708.2,284.0 L708.5,281.3 L708.7,282.2 L709.0,281.9 L709.2,283.9 L709.5,286.5 L709.7,285.7 L710.0,286.4 L710.2,283.6 L710.5,285.2 L710.7,280.4 L711.0,279.2 L711.2,281.3 L711.5,280.0 L711.7,279.3 L712.0,278.3 L712.2,277.8 L712.5,276.8 L712.8,274.7 L713.0,274.3 L713.2,274.4 L713.5,272.5 L713.8,273.5 L714.0,275.0 L714.2,271.3 L714.5,270.8 L714.7,271.1 L715.0,271.8 L715.2,272.6 L715.5,271.8 L715.7,272.9 L715.9,273.7 L716.2,274.2 L716.4,275.6 L716.6,276.1 L716.9,274.2 L717.1,273.6 L717.4,276.2 L717.6,276.4 L717.9,276.6 L718.1,276.5 L718.4,278.1 L718.6,278.6 L718.9,278.2 L719.1,278.7 L719.3,281.3 L719.6,282.5 L719.8,282.6 L720.1,281.9 L720.3,281.3 L720.5,282.4 L720.8,284.6 L721.0,284.7 L721.2,284.7 L721.5,284.7 L721.7,284.5 L722.0,283.8 L722.2,284.5 L722.5,283.6 L722.7,284.7 L723.0,284.7 L723.2,283.0 L723.5,282.1 L723.7,279.9 L724.0,280.1 L724.2,279.5 L724.5,282.1 L724.8,279.6 L725.0,280.6 L725.2,279.2 L725.5,277.7 L725.8,277.9 L726.0,275.7 L726.2,276.3 L726.5,277.9 L726.8,276.8 L727.0,275.1 L727.2,274.2 L727.5,274.2 L727.8,272.3 L728.0,271.8 L728.2,271.8 L728.5,270.5 L728.7,270.7 L729.0,270.4 L729.2,270.6 L729.4,267.7 L729.7,267.1 L729.9,266.9 L730.1,269.1 L730.4,269.8 L730.6,267.2 L730.8,267.3 L731.1,272.3 L731.3,272.2 L731.5,271.7 L731.8,271.7 L732.0,274.0 L732.3,277.7 L732.5,278.9 L732.8,278.1 L733.0,278.9 L733.3,283.2 L733.5,281.2 L733.7,285.0 L734.0,285.0 L734.2,285.3 L734.5,288.2 L734.7,289.6 L735.0,288.6 L735.2,287.9 L735.5,291.0 L735.7,293.4 L735.9,295.9 L736.2,292.7 L736.4,297.4 L736.7,299.2 L736.9,302.0 L737.1,302.3 L737.4,302.1 L737.6,302.8 L737.9,304.1 L738.1,303.9 L738.4,305.0 L738.6,306.5 L738.9,306.8 L739.1,306.2 L739.4,307.3 L739.6,310.3 L739.8,311.5 L740.1,312.1 L740.3,310.5 L740.5,313.5 L740.8,313.2 L741.0,312.7 L741.2,315.2 L741.5,313.2 L741.8,318.5 L742.0,318.3 L742.2,317.0 L742.5,316.0 L742.7,316.8 L743.0,322.3 L743.2,325.2 L743.4,325.4 L743.6,324.7 L743.9,326.5 L744.1,328.9 L744.4,331.7 L744.6,329.6 L744.8,328.2 L745.1,323.6 L745.3,323.0 L745.5,322.8 L745.8,317.7 L746.0,318.1 L746.3,316.9 L746.5,316.5 L746.8,314.0 L747.0,315.8 L747.3,311.7 L747.5,313.2 L747.7,312.4 L748.0,314.5 L748.2,314.7 L748.5,313.2 L748.7,313.3 L749.0,313.1 L749.2,312.0 L749.5,309.9 L749.7,313.1 L750.0,311.6 L750.2,311.4 L750.5,310.3 L750.7,309.4 L751.0,308.4 L751.2,308.4 L751.5,308.3 L751.8,309.7 L752.0,308.1 L752.2,305.4 L752.5,305.1 L752.8,306.2 L753.0,307.1 L753.2,308.0 L753.5,306.7 L753.8,307.0 L754.0,306.5 L754.2,307.4 L754.5,306.6 L754.7,306.1 L755.0,306.3 L755.2,307.4 L755.5,304.1 L755.7,303.2 L755.9,303.1 L756.2,301.6 L756.4,303.6 L756.7,304.1 L756.9,303.1 L757.1,303.9 L757.4,303.9 L757.6,303.9 L757.8,303.9 L758.1,303.9 L758.3,299.4 L758.6,300.9 L758.8,299.6 L759.0,297.7 L759.3,297.5 L759.5,298.4 L759.8,299.1 L760.0,297.6 L760.3,295.6 L760.5,296.0 L760.8,294.5 L761.0,293.9 L761.3,294.5 L761.5,291.2 L761.8,292.2 L762.0,289.1 L762.2,289.1 L762.5,289.1 L762.7,289.6 L762.9,290.2 L763.2,289.6 L763.4,290.7 L763.7,289.7 L763.9,288.5 L764.1,288.8 L764.4,287.7 L764.6,287.5 L764.8,289.0 L765.1,287.9 L765.3,290.3 L765.5,287.7 L765.8,288.4 L766.0,288.1 L766.2,288.3 L766.5,292.1 L766.8,292.6 L767.0,294.4 L767.2,291.7 L767.5,292.4 L767.8,293.9 L768.0,296.0 L768.2,297.7 L768.5,294.6 L768.8,297.2 L769.0,298.0 L769.2,299.0 L769.5,300.6 L769.7,300.5 L769.9,298.8 L770.2,300.2 L770.4,301.9 L770.6,302.1 L770.9,303.3 L771.1,307.5 L771.3,306.5 L771.6,307.0 L771.8,308.1 L772.0,307.9 L772.3,308.9 L772.5,309.7 L772.8,311.0 L773.0,311.4 L773.3,313.5 L773.5,311.2 L773.8,311.7 L774.0,309.6 L774.2,310.6 L774.5,308.1 L774.7,308.1 L775.0,307.7 L775.2,306.4 L775.5,308.2 L775.7,305.8 L776.0,302.8 L776.2,302.7 L776.4,301.3 L776.7,300.3 L776.9,300.6 L777.1,300.8 L777.4,302.4 L777.6,299.4 L777.8,299.3 L778.1,301.4 L778.3,300.6 L778.5,300.9 L778.8,301.5 L779.0,300.1 L779.2,300.7 L779.5,302.3 L779.8,301.5 L780.0,299.3 L780.2,299.6 L780.5,302.2 L780.8,303.7 L781.0,306.4 L781.2,306.4 L781.5,304.9 L781.7,306.5 L782.0,307.9 L782.2,310.2 L782.5,308.8 L782.7,307.6 L782.9,308.6 L783.2,311.4 L783.4,311.2 L783.7,311.7 L783.9,311.7 L784.1,310.4 L784.4,308.5 L784.6,311.7 L784.8,307.4 L785.1,307.3 L785.3,307.2 L785.6,306.4 L785.8,306.6 L786.0,306.1 L786.3,308.4 L786.5,307.0 L786.8,304.7 L787.0,304.4 L787.3,305.0 L787.5,302.7 L787.8,302.2 L788.0,298.4 L788.2,299.5 L788.5,299.4 L788.7,298.3 L789.0,295.7 L789.2,298.4 L789.5,296.8 L789.7,293.7 L789.9,294.5 L790.2,295.3 L790.4,294.8 L790.6,298.7 L790.9,299.1 L791.1,300.4 L791.4,302.4 L791.6,303.8 L791.9,303.9 L792.1,305.3 L792.4,306.5 L792.6,309.2 L792.8,310.0 L793.1,308.6 L793.3,308.6 L793.6,310.1 L793.8,309.3 L794.0,310.1 L794.3,310.1 L794.5,310.1 L794.8,307.5 L795.0,309.1 L795.2,309.2 L795.5,309.7 L795.7,309.8 L796.0,309.9 L796.2,308.1 L796.4,309.5 L796.7,308.6 L796.9,306.7 L797.2,306.4 L797.4,307.2 L797.6,307.4 L797.9,304.3 L798.1,304.1 L798.4,306.1 L798.6,306.1 L798.8,308.6 L799.1,305.5 L799.3,305.2 L799.6,304.7 L799.8,305.4 L800.0,306.4 L800.3,306.4 L800.5,304.5 L800.8,306.3 L801.0,302.8 L801.3,303.8 L801.5,303.8 L801.8,304.1 L802.0,302.5 L802.3,303.4 L802.5,302.9 L802.8,302.3 L803.0,301.4 L803.2,299.4 L803.5,301.4 L803.7,301.3 L804.0,301.0 L804.2,301.3 L804.5,299.7 L804.7,298.8 L805.0,298.5 L805.2,299.7 L805.5,298.1 L805.7,298.5 L806.0,297.6 L806.2,295.0 L806.5,294.0 L806.8,293.1 L807.0,293.1 L807.2,293.5 L807.5,294.3 L807.8,294.4 L808.0,294.0 L808.2,295.4 L808.5,295.4 L808.8,292.7 L809.0,292.8 L809.2,294.1 L809.5,297.4 L809.8,296.8 L810.0,296.8 L810.2,298.0 L810.5,299.6 L810.8,299.5 L811.0,300.3 L811.2,300.6 L811.5,300.8 L811.7,300.8 L812.0,303.8 L812.2,303.6 L812.4,305.7 L812.7,306.7 L812.9,307.7 L813.1,305.9 L813.4,305.9 L813.6,305.9 L813.8,308.6 L814.1,311.5 L814.3,313.1 L814.5,315.7 L814.8,315.7 L815.0,315.7 L815.3,314.2 L815.5,315.0 L815.8,313.5 L816.0,314.3 L816.2,313.9 L816.5,314.3 L816.7,312.5 L817.0,310.6 L817.2,310.3 L817.5,310.9 L817.7,311.4 L818.0,315.2 L818.2,320.3 L818.5,324.7 L818.8,326.6 L819.0,330.5 L819.2,332.4 L819.5,337.6 L819.8,342.5 L820.0,344.9 L820.2,352.3 L820.5,355.2 L820.8,358.6 L821.0,361.1 L821.3,365.0 L821.5,369.0 L821.8,370.5 L822.0,371.7 L822.3,374.4 L822.6,379.3 L822.8,380.7 L823.1,381.9 L823.3,383.7 L823.6,386.0 L823.9,388.3 L824.1,392.7 L824.4,395.4 L824.6,398.6 L824.8,401.7 L825.0,405.1 L825.3,406.6 L825.5,409.6 L825.8,411.4 L826.0,416.8 L826.3,418.9 L826.5,423.9 L826.8,430.1 L827.0,435.2 L827.2,440.6 L827.5,469.6 L827.7,493.7 L828.0,455.7 L828.2,421.3 L828.4,404.0 L828.6,391.2 L828.9,385.0 L829.1,383.0 L829.4,379.3 L829.6,379.5 L829.8,378.1 L830.1,372.9 L830.3,370.7 L830.5,368.1 L830.8,365.9 L831.0,363.2 L831.2,360.9 L831.5,359.0 L831.7,353.6 L832.0,353.8 L832.2,353.7 L832.5,353.0 L832.8,349.5 L833.0,348.9 L833.2,350.6 L833.5,351.2 L833.8,351.0 L834.0,347.5 L834.2,347.4 L834.5,346.0 L834.8,347.0 L835.0,342.9 L835.2,343.4 L835.5,344.6 L835.8,342.9 L836.0,342.4 L836.2,341.3 L836.5,342.8 L836.8,340.4 L837.0,339.4 L837.2,339.7 L837.5,339.7 L837.8,343.7 L838.0,342.1 L838.2,339.6 L838.5,340.3 L838.8,340.0 L839.0,339.6 L839.2,339.2 L839.5,339.5 L839.8,337.3 L840.0,335.8 L840.2,336.2 L840.5,335.6 L840.8,337.7 L841.0,340.4 L841.2,340.3 L841.5,338.8 L841.8,337.8 L842.0,336.6 L842.3,335.3 L842.5,336.3 L842.8,334.1 L843.0,335.4 L843.3,335.3 L843.5,336.7 L843.8,336.0 L844.0,335.6 L844.3,334.3 L844.5,333.1 L844.8,333.3 L845.0,334.6 L845.3,334.9 L845.5,335.4 L845.8,334.0 L846.0,332.7 L846.3,334.4 L846.5,333.4 L846.8,335.4 L847.0,335.4 L847.2,332.3 L847.5,332.3 L847.7,335.3 L848.0,332.3 L848.2,333.0 L848.5,332.3 L848.7,333.9 L849.0,333.9 L849.2,332.9 L849.5,332.3 L849.8,333.1 L850.0,332.5 L850.3,335.8 L850.5,338.9 L850.8,339.1 L851.0,338.6 L851.3,337.1 L851.5,339.3 L851.8,339.5 L852.0,339.9 L852.2,341.4 L852.5,341.5 L852.7,339.1 L853.0,341.7 L853.2,340.4 L853.5,340.3 L853.7,339.5 L853.9,340.4 L854.2,340.4 L854.4,339.2 L854.7,340.2 L854.9,338.6 L855.2,338.7 L855.4,339.4 L855.7,338.4 L855.9,337.4 L856.2,337.8 L856.5,338.1 L856.7,341.5 L857.0,338.7 L857.2,342.1 L857.5,342.1 L857.8,342.0 L858.0,342.3 L858.3,341.7 L858.5,343.4 L858.8,344.2 L859.1,344.6 L859.3,344.6 L859.6,344.7 L859.9,344.2 L860.1,344.3 L860.4,342.8 L860.7,342.1 L860.9,341.9 L861.2,341.0 L861.4,340.9 L861.7,339.6 L862.0,338.9 L862.2,337.7 L862.5,335.7 L862.8,335.2 L863.0,335.2 L863.3,335.5 L863.5,334.1 L863.8,334.6 L864.0,332.9 L864.3,331.7 L864.5,332.6 L864.8,334.3 L865.0,333.2 L865.3,331.4 L865.5,330.7 L865.7,331.6 L866.0,328.1 L866.2,330.3 L866.5,326.5 L866.7,326.2 L867.0,326.8 L867.2,326.5 L867.4,327.7 L867.7,327.4 L867.9,326.2 L868.2,327.0 L868.4,325.6 L868.6,323.3 L868.9,325.1 L869.1,325.8 L869.4,325.0 L869.6,322.4 L869.8,323.6 L870.1,322.2 L870.3,322.7 L870.6,323.5 L870.8,323.6 L871.0,319.6 L871.3,317.8 L871.5,320.0 L871.8,319.4 L872.0,318.3 L872.2,314.6 L872.5,315.7 L872.7,315.3 L873.0,311.9 L873.2,317.3 L873.4,311.9 L873.7,312.2 L873.9,312.6 L874.1,312.2 L874.4,312.5 L874.6,310.9 L874.8,308.5 L875.1,308.0 L875.3,305.9 L875.6,305.9 L875.8,307.6 L876.0,305.8 L876.3,304.8 L876.5,307.3 L876.7,306.1 L877.0,303.3 L877.2,302.0 L877.5,300.7 L877.7,298.2 L878.0,299.8 L878.2,298.4 L878.5,299.0 L878.7,296.3 L878.9,295.3 L879.2,295.2 L879.4,294.1 L879.7,293.0 L879.9,291.3 L880.1,292.1 L880.4,292.1 L880.6,292.4 L880.9,291.8 L881.1,288.6 L881.4,289.9 L881.6,292.4 L881.9,290.4 L882.1,288.3 L882.4,288.3 L882.6,287.3 L882.8,287.3 L883.1,288.7 L883.3,287.8 L883.5,291.7 L883.8,291.9 L884.0,292.6 L884.2,292.9 L884.5,295.6 L884.8,300.0 L885.0,300.7 L885.2,300.0 L885.5,299.6 L885.7,299.2 L886.0,300.4 L886.2,299.0 L886.5,299.7 L886.7,300.7 L886.9,298.1 L887.2,297.5 L887.4,298.7 L887.7,298.4 L887.9,298.2 L888.1,297.4 L888.4,297.3 L888.6,299.4 L888.9,299.4 L889.1,295.7 L889.3,296.2 L889.6,296.3 L889.8,296.1 L890.1,294.5 L890.3,295.0 L890.6,294.9 L890.8,293.7 L891.1,294.3 L891.3,290.9 L891.6,290.9 L891.8,291.5 L892.1,292.7 L892.3,292.2 L892.6,291.7 L892.8,291.5 L893.1,292.5 L893.3,292.8 L893.6,291.2 L893.8,289.5 L894.0,291.1 L894.3,290.5 L894.5,290.3 L894.8,288.5 L895.0,287.3 L895.2,287.0 L895.5,285.6 L895.8,287.4 L896.0,287.5 L896.2,282.1 L896.5,284.1 L896.8,285.0 L897.0,284.0 L897.2,282.6 L897.5,280.7 L897.8,282.2 L898.0,282.8 L898.2,280.9 L898.5,278.0 L898.8,276.9 L899.0,277.6 L899.2,275.9 L899.5,274.5 L899.7,275.5 L899.9,276.4 L900.2,272.1 L900.4,272.4 L900.6,273.6 L900.9,272.7 L901.1,271.4 L901.4,272.2 L901.6,269.8 L901.9,269.4 L902.1,269.9 L902.4,272.6 L902.6,273.4 L902.8,272.6 L903.1,273.4 L903.3,272.1 L903.6,270.9 L903.8,270.9 L904.0,272.0 L904.3,274.0 L904.5,274.7 L904.8,274.6 L905.0,274.1 L905.2,276.4 L905.5,275.9 L905.7,275.2 L906.0,277.6 L906.2,276.8 L906.5,278.3 L906.7,278.7 L907.0,280.4 L907.2,280.2 L907.4,282.2 L907.7,282.5 L907.9,281.5 L908.1,281.4 L908.4,283.4 L908.6,283.1 L908.8,285.0 L909.1,285.1 L909.3,284.2 L909.5,284.5 L909.8,286.4 L910.0,288.9 L910.2,290.3 L910.5,290.3 L910.8,288.7 L911.0,292.7 L911.2,291.5 L911.5,291.7 L911.7,290.4 L912.0,291.6 L912.2,290.2 L912.5,287.9 L912.7,287.5 L912.9,285.1 L913.2,284.1 L913.4,284.2 L913.6,280.3 L913.9,282.3 L914.1,284.8 L914.4,280.3 L914.6,279.3 L914.9,276.3 L915.1,277.1 L915.4,276.7 L915.6,276.4 L915.9,272.8 L916.1,271.4 L916.3,270.3 L916.6,270.0 L916.8,270.9 L917.0,269.4 L917.3,267.9 L917.5,265.7 L917.8,266.2 L918.0,267.5 L918.3,264.5 L918.5,264.1 L918.8,260.8 L919.0,261.4 L919.2,259.2 L919.5,258.9 L919.7,257.1 L920.0,256.7 L920.2,252.0 L920.5,252.1 L920.7,250.7 L921.0,250.5 L921.2,251.1 L921.5,253.1 L921.8,250.3 L922.0,250.5 L922.2,252.2 L922.5,253.9 L922.8,254.0 L923.0,254.9 L923.2,255.9 L923.5,258.3 L923.8,258.4 L924.0,259.4 L924.2,256.9 L924.5,255.8 L924.8,258.4 L925.0,261.8 L925.2,261.3 L925.5,263.9 L925.8,265.7 L926.0,267.5 L926.2,267.8 L926.5,269.4 L926.8,272.4 L927.0,273.6 L927.2,274.9 L927.5,275.5 L927.7,277.6 L928.0,281.0 L928.2,281.2 L928.4,281.6 L928.7,281.9 L928.9,284.3 L929.1,283.1 L929.4,281.2 L929.6,283.6 L929.8,282.2 L930.1,280.9 L930.3,280.9 L930.6,283.4 L930.8,282.2 L931.0,280.1 L931.3,278.3 L931.5,280.0 L931.8,280.0 L932.0,279.3 L932.2,277.9 L932.5,277.8 L932.7,277.7 L933.0,276.5 L933.2,274.0 L933.5,269.5 L933.7,269.9 L934.0,270.2 L934.2,267.6 L934.4,264.2 L934.7,263.1 L934.9,263.8 L935.1,259.7 L935.4,258.7 L935.6,257.3 L935.8,257.5 L936.1,252.5 L936.3,248.6 L936.6,249.8 L936.8,249.3 L937.0,247.6 L937.3,246.5 L937.5,244.6 L937.8,245.5 L938.0,241.9" fill="none" stroke="#7b9ae6" stroke-width="3.9" stroke-linejoin="round" stroke-linecap="round"/>
<line x1="54.5" y1="116" x2="54.5" y2="521" stroke="#000" stroke-width="1.1"/>
<line x1="981.5" y1="116" x2="981.5" y2="521" stroke="#000" stroke-width="1.1"/>
<line x1="49" y1="520.4" x2="982" y2="520.4" stroke="#000" stroke-width="1.1"/>
<line x1="54.8" y1="520.4" x2="54.8" y2="526" stroke="#111" stroke-width="1.1"/><line x1="117.6" y1="520.4" x2="117.6" y2="526" stroke="#111" stroke-width="1.1"/><line x1="180.5" y1="520.4" x2="180.5" y2="526" stroke="#111" stroke-width="1.1"/><line x1="243.3" y1="520.4" x2="243.3" y2="526" stroke="#111" stroke-width="1.1"/><line x1="306.1" y1="520.4" x2="306.1" y2="526" stroke="#111" stroke-width="1.1"/><line x1="368.9" y1="520.4" x2="368.9" y2="526" stroke="#111" stroke-width="1.1"/><line x1="431.8" y1="520.4" x2="431.8" y2="526" stroke="#111" stroke-width="1.1"/><line x1="494.6" y1="520.4" x2="494.6" y2="526" stroke="#111" stroke-width="1.1"/><line x1="557.4" y1="520.4" x2="557.4" y2="526" stroke="#111" stroke-width="1.1"/><line x1="620.3" y1="520.4" x2="620.3" y2="526" stroke="#111" stroke-width="1.1"/><line x1="683.1" y1="520.4" x2="683.1" y2="526" stroke="#111" stroke-width="1.1"/><line x1="745.9" y1="520.4" x2="745.9" y2="526" stroke="#111" stroke-width="1.1"/><line x1="808.8" y1="520.4" x2="808.8" y2="526" stroke="#111" stroke-width="1.1"/><line x1="871.6" y1="520.4" x2="871.6" y2="526" stroke="#111" stroke-width="1.1"/><line x1="934.4" y1="520.4" x2="934.4" y2="526" stroke="#111" stroke-width="1.1"/><text x="54.5" y="549" text-anchor="middle" class="ax">2008</text><text x="117.3" y="549" text-anchor="middle" class="ax">2009</text><text x="180.2" y="549" text-anchor="middle" class="ax">2010</text><text x="243.0" y="549" text-anchor="middle" class="ax">2011</text><text x="305.8" y="549" text-anchor="middle" class="ax">2012</text><text x="368.6" y="549" text-anchor="middle" class="ax">2013</text><text x="431.5" y="549" text-anchor="middle" class="ax">2014</text><text x="494.3" y="549" text-anchor="middle" class="ax">2015</text><text x="557.1" y="549" text-anchor="middle" class="ax">2016</text><text x="620.0" y="549" text-anchor="middle" class="ax">2017</text><text x="682.8" y="549" text-anchor="middle" class="ax">2018</text><text x="745.6" y="549" text-anchor="middle" class="ax">2019</text><text x="808.5" y="549" text-anchor="middle" class="ax">2020</text><text x="871.3" y="549" text-anchor="middle" class="ax">2021</text><text x="934.1" y="549" text-anchor="middle" class="ax">2022</text><line x1="49" y1="520.4" x2="54.5" y2="520.4" stroke="#111" stroke-width="1.1"/><text x="12.5" y="527.0" class="ax">0.0</text><line x1="49" y1="405.0" x2="54.5" y2="405.0" stroke="#111" stroke-width="1.1"/><text x="12.5" y="411.6" class="ax">1.0</text><line x1="49" y1="289.6" x2="54.5" y2="289.6" stroke="#111" stroke-width="1.1"/><text x="12.5" y="296.2" class="ax">2.0</text><line x1="49" y1="174.2" x2="54.5" y2="174.2" stroke="#111" stroke-width="1.1"/><text x="12.5" y="180.8" class="ax">3.0</text><line x1="981.5" y1="520.4" x2="987" y2="520.4" stroke="#111" stroke-width="1.1"/><text x="997.8" y="526.5" class="ax">-50</text><line x1="981.5" y1="419.3" x2="987" y2="419.3" stroke="#111" stroke-width="1.1"/><text x="997.8" y="425.4" class="ax">0</text><line x1="981.5" y1="318.2" x2="987" y2="318.2" stroke="#111" stroke-width="1.1"/><text x="997.8" y="324.3" class="ax">50</text><line x1="981.5" y1="217.1" x2="987" y2="217.1" stroke="#111" stroke-width="1.1"/><text x="997.8" y="223.2" class="ax">100</text><line x1="981.5" y1="116.2" x2="987" y2="116.2" stroke="#111" stroke-width="1.1"/><text x="997.8" y="122.3" class="ax">150</text>
<text x="10" y="585.7" style="font-size:14.4px;font-style:italic;fill:#222;" textLength="383.8" lengthAdjust="spacingAndGlyphs" xml:space="preserve">Source:  FRED data, EIA/CME, Haver Analytics, Deutsche Bank</text>
<rect x="10" y="592" width="1020" height="1.3" fill="#a9c4dc"/>
</svg>
</body></html>
